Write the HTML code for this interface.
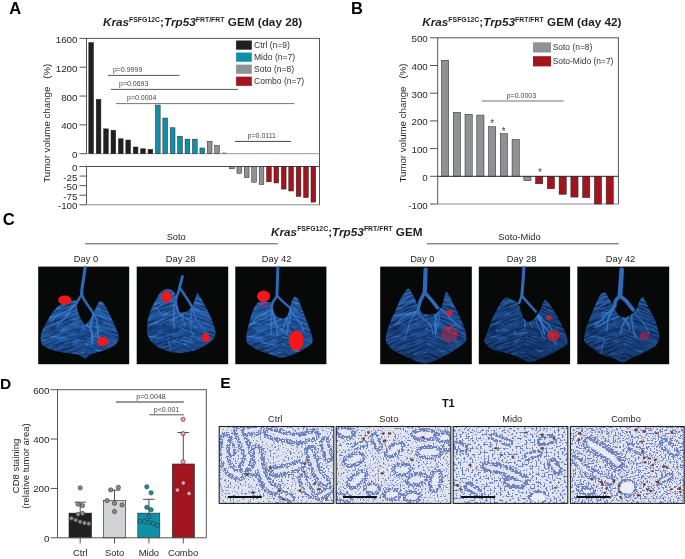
<!DOCTYPE html>
<html><head><meta charset="utf-8"><style>
html,body{margin:0;padding:0;background:#fff;}
svg{display:block;will-change:transform;font-family:"Liberation Sans", sans-serif;}
</style></head><body>
<svg width="685" height="559" viewBox="0 0 685 559">
<rect width="685" height="559" fill="#fff"/>
<text x="9.30" y="13.90" font-size="16.5" font-weight="bold" fill="#000">A</text>
<text x="350.90" y="13.90" font-size="16.5" font-weight="bold" fill="#000">B</text>
<text x="2.80" y="224.90" font-size="16.5" font-weight="bold" fill="#000">C</text>
<text x="0.10" y="388.70" font-size="15.5" font-weight="bold" fill="#000">D</text>
<text x="220.30" y="387.60" font-size="15.5" font-weight="bold" fill="#000">E</text>
<text x="102.9" y="26" font-size="11.75" font-weight="bold" fill="#231f20"><tspan font-style="italic">Kras</tspan><tspan font-size="6.9" dy="-4.2">FSFG12C</tspan><tspan dy="4.2">;</tspan><tspan font-style="italic">Trp53</tspan><tspan font-size="6.9" dy="-4.2">FRT/FRT</tspan><tspan dy="4.2"> GEM (day 28)</tspan></text>
<line x1="86.50" y1="38.40" x2="319.50" y2="38.40" stroke="#555555" stroke-width="1"/>
<line x1="86.50" y1="37.90" x2="86.50" y2="153.70" stroke="#555555" stroke-width="1"/>
<line x1="319.50" y1="37.90" x2="319.50" y2="205.30" stroke="#555555" stroke-width="1"/>
<line x1="86.50" y1="166.50" x2="319.50" y2="166.50" stroke="#4a4a4a" stroke-width="1"/>
<line x1="86.50" y1="166.50" x2="86.50" y2="204.80" stroke="#555555" stroke-width="1"/>
<line x1="86.50" y1="204.80" x2="319.50" y2="204.80" stroke="#8a8a8a" stroke-width="1"/>
<line x1="86.50" y1="153.70" x2="319.50" y2="153.70" stroke="#9a9a9a" stroke-width="1"/>
<line x1="79.50" y1="153.70" x2="86.50" y2="153.70" stroke="#555555" stroke-width="1"/>
<text x="77.50" y="158.20" font-size="9.8" text-anchor="end" fill="#231f20">0</text>
<line x1="79.50" y1="124.88" x2="86.50" y2="124.88" stroke="#555555" stroke-width="1"/>
<text x="77.50" y="129.38" font-size="9.8" text-anchor="end" fill="#231f20">400</text>
<line x1="79.50" y1="96.05" x2="86.50" y2="96.05" stroke="#555555" stroke-width="1"/>
<text x="77.50" y="100.55" font-size="9.8" text-anchor="end" fill="#231f20">800</text>
<line x1="79.50" y1="67.23" x2="86.50" y2="67.23" stroke="#555555" stroke-width="1"/>
<text x="77.50" y="71.73" font-size="9.8" text-anchor="end" fill="#231f20">1200</text>
<line x1="79.50" y1="38.40" x2="86.50" y2="38.40" stroke="#555555" stroke-width="1"/>
<text x="77.50" y="42.90" font-size="9.8" text-anchor="end" fill="#231f20">1600</text>
<line x1="79.50" y1="166.50" x2="86.50" y2="166.50" stroke="#555555" stroke-width="1"/>
<text x="77.50" y="171.00" font-size="9.8" text-anchor="end" fill="#231f20">0</text>
<line x1="79.50" y1="176.07" x2="86.50" y2="176.07" stroke="#555555" stroke-width="1"/>
<text x="77.50" y="180.57" font-size="9.8" text-anchor="end" fill="#231f20">-25</text>
<line x1="79.50" y1="185.65" x2="86.50" y2="185.65" stroke="#555555" stroke-width="1"/>
<text x="77.50" y="190.15" font-size="9.8" text-anchor="end" fill="#231f20">-50</text>
<line x1="79.50" y1="195.23" x2="86.50" y2="195.23" stroke="#555555" stroke-width="1"/>
<text x="77.50" y="199.73" font-size="9.8" text-anchor="end" fill="#231f20">-75</text>
<line x1="79.50" y1="204.80" x2="86.50" y2="204.80" stroke="#555555" stroke-width="1"/>
<text x="77.50" y="209.30" font-size="9.8" text-anchor="end" fill="#231f20">-100</text>
<text transform="translate(50.4,123.2) rotate(-90)" font-size="9.7" text-anchor="middle" fill="#231f20">Tumor volume change<tspan dx="8">(%)</tspan></text>
<rect x="88.80" y="42.58" width="4.70" height="111.12" fill="#231f20" stroke="#222" stroke-width="0.5"/>
<rect x="96.21" y="99.36" width="4.70" height="54.34" fill="#231f20" stroke="#222" stroke-width="0.5"/>
<rect x="103.61" y="128.84" width="4.70" height="24.86" fill="#231f20" stroke="#222" stroke-width="0.5"/>
<rect x="111.02" y="130.21" width="4.70" height="23.49" fill="#231f20" stroke="#222" stroke-width="0.5"/>
<rect x="118.43" y="138.78" width="4.70" height="14.92" fill="#231f20" stroke="#222" stroke-width="0.5"/>
<rect x="125.83" y="140.01" width="4.70" height="13.69" fill="#231f20" stroke="#222" stroke-width="0.5"/>
<rect x="133.24" y="147.00" width="4.70" height="6.70" fill="#231f20" stroke="#222" stroke-width="0.5"/>
<rect x="140.65" y="148.80" width="4.70" height="4.90" fill="#231f20" stroke="#222" stroke-width="0.5"/>
<rect x="148.06" y="149.30" width="4.70" height="4.40" fill="#231f20" stroke="#222" stroke-width="0.5"/>
<rect x="155.46" y="105.06" width="4.70" height="48.64" fill="#118fa9" stroke="#222" stroke-width="0.5"/>
<rect x="162.87" y="118.03" width="4.70" height="35.67" fill="#118fa9" stroke="#222" stroke-width="0.5"/>
<rect x="170.28" y="127.76" width="4.70" height="25.94" fill="#118fa9" stroke="#222" stroke-width="0.5"/>
<rect x="177.68" y="136.33" width="4.70" height="17.37" fill="#118fa9" stroke="#222" stroke-width="0.5"/>
<rect x="185.09" y="139.14" width="4.70" height="14.56" fill="#118fa9" stroke="#222" stroke-width="0.5"/>
<rect x="192.50" y="139.14" width="4.70" height="14.56" fill="#118fa9" stroke="#222" stroke-width="0.5"/>
<rect x="199.91" y="148.01" width="4.70" height="5.69" fill="#118fa9" stroke="#222" stroke-width="0.5"/>
<rect x="207.31" y="141.31" width="4.70" height="12.39" fill="#8f9294" stroke="#222" stroke-width="0.5"/>
<rect x="214.72" y="145.48" width="4.70" height="8.22" fill="#8f9294" stroke="#222" stroke-width="0.5"/>
<rect x="222.13" y="152.90" width="4.70" height="0.80" fill="#8f9294" stroke="#555" stroke-width="0.3"/>
<rect x="229.53" y="166.50" width="4.70" height="2.30" fill="#8f9294" stroke="#222" stroke-width="0.5"/>
<rect x="236.94" y="166.50" width="4.70" height="6.89" fill="#8f9294" stroke="#222" stroke-width="0.5"/>
<rect x="244.35" y="166.50" width="4.70" height="11.11" fill="#8f9294" stroke="#222" stroke-width="0.5"/>
<rect x="251.75" y="166.50" width="4.70" height="15.70" fill="#8f9294" stroke="#222" stroke-width="0.5"/>
<rect x="259.16" y="166.50" width="4.70" height="18.00" fill="#8f9294" stroke="#222" stroke-width="0.5"/>
<rect x="266.57" y="166.50" width="4.70" height="15.32" fill="#a3151e" stroke="#222" stroke-width="0.5"/>
<rect x="273.98" y="166.50" width="4.70" height="16.47" fill="#a3151e" stroke="#222" stroke-width="0.5"/>
<rect x="281.38" y="166.50" width="4.70" height="22.60" fill="#a3151e" stroke="#222" stroke-width="0.5"/>
<rect x="288.79" y="166.50" width="4.70" height="24.51" fill="#a3151e" stroke="#222" stroke-width="0.5"/>
<rect x="296.20" y="166.50" width="4.70" height="29.87" fill="#a3151e" stroke="#222" stroke-width="0.5"/>
<rect x="303.60" y="166.50" width="4.70" height="31.02" fill="#a3151e" stroke="#222" stroke-width="0.5"/>
<rect x="311.01" y="166.50" width="4.70" height="35.62" fill="#a3151e" stroke="#222" stroke-width="0.5"/>
<rect x="236.10" y="40.50" width="15.70" height="9.20" fill="#231f20"/>
<text x="254.00" y="48.10" font-size="8.55" fill="#333">Ctrl (n=9)</text>
<rect x="236.10" y="52.55" width="15.70" height="9.20" fill="#118fa9"/>
<text x="254.00" y="60.15" font-size="8.55" fill="#333">Mido (n=7)</text>
<rect x="236.10" y="64.60" width="15.70" height="9.20" fill="#8f9294"/>
<text x="254.00" y="72.20" font-size="8.55" fill="#333">Soto (n=8)</text>
<rect x="236.10" y="76.65" width="15.70" height="9.20" fill="#a3151e"/>
<text x="254.00" y="84.25" font-size="8.55" fill="#333">Combo (n=7)</text>
<line x1="108.00" y1="75.40" x2="179.40" y2="75.40" stroke="#555" stroke-width="1"/>
<text x="112.90" y="71.80" font-size="7" fill="#444">p=0.9999</text>
<line x1="110.80" y1="89.40" x2="237.80" y2="89.40" stroke="#555" stroke-width="1"/>
<text x="119.00" y="85.80" font-size="7" fill="#444">p=0.0693</text>
<line x1="115.90" y1="103.60" x2="294.50" y2="103.60" stroke="#777" stroke-width="1"/>
<text x="127.00" y="100.00" font-size="7" fill="#444">p=0.0004</text>
<line x1="235.00" y1="141.40" x2="291.00" y2="141.40" stroke="#444" stroke-width="1"/>
<text x="247.60" y="137.80" font-size="7" fill="#444">p=0.0111</text>
<text x="422.2" y="26" font-size="11.75" font-weight="bold" fill="#231f20"><tspan font-style="italic">Kras</tspan><tspan font-size="6.9" dy="-4.2">FSFG12C</tspan><tspan dy="4.2">;</tspan><tspan font-style="italic">Trp53</tspan><tspan font-size="6.9" dy="-4.2">FRT/FRT</tspan><tspan dy="4.2"> GEM (day 42)</tspan></text>
<line x1="437.70" y1="37.80" x2="618.40" y2="37.80" stroke="#555555" stroke-width="1"/>
<line x1="437.70" y1="37.30" x2="437.70" y2="204.00" stroke="#555555" stroke-width="1"/>
<line x1="618.40" y1="37.30" x2="618.40" y2="204.00" stroke="#555555" stroke-width="1"/>
<line x1="437.70" y1="204.00" x2="618.40" y2="204.00" stroke="#8a8a8a" stroke-width="1"/>
<line x1="430.00" y1="37.80" x2="437.70" y2="37.80" stroke="#555555" stroke-width="1"/>
<text x="427.80" y="42.30" font-size="9.8" text-anchor="end" fill="#231f20">500</text>
<line x1="430.00" y1="65.50" x2="437.70" y2="65.50" stroke="#555555" stroke-width="1"/>
<text x="427.80" y="70.00" font-size="9.8" text-anchor="end" fill="#231f20">400</text>
<line x1="430.00" y1="93.20" x2="437.70" y2="93.20" stroke="#555555" stroke-width="1"/>
<text x="427.80" y="97.70" font-size="9.8" text-anchor="end" fill="#231f20">300</text>
<line x1="430.00" y1="120.90" x2="437.70" y2="120.90" stroke="#555555" stroke-width="1"/>
<text x="427.80" y="125.40" font-size="9.8" text-anchor="end" fill="#231f20">200</text>
<line x1="430.00" y1="148.60" x2="437.70" y2="148.60" stroke="#555555" stroke-width="1"/>
<text x="427.80" y="153.10" font-size="9.8" text-anchor="end" fill="#231f20">100</text>
<line x1="430.00" y1="176.30" x2="437.70" y2="176.30" stroke="#555555" stroke-width="1"/>
<text x="427.80" y="180.80" font-size="9.8" text-anchor="end" fill="#231f20">0</text>
<line x1="430.00" y1="204.00" x2="437.70" y2="204.00" stroke="#555555" stroke-width="1"/>
<text x="427.80" y="208.50" font-size="9.8" text-anchor="end" fill="#231f20">-100</text>
<text transform="translate(405.5,123.0) rotate(-90)" font-size="9.7" text-anchor="middle" fill="#231f20">Tumor volume change<tspan dx="8">(%)</tspan></text>
<rect x="441.50" y="60.24" width="7.20" height="116.06" fill="#8f9294" stroke="#222" stroke-width="0.5"/>
<rect x="453.26" y="112.31" width="7.20" height="63.99" fill="#8f9294" stroke="#222" stroke-width="0.5"/>
<rect x="465.02" y="114.25" width="7.20" height="62.05" fill="#8f9294" stroke="#222" stroke-width="0.5"/>
<rect x="476.78" y="115.08" width="7.20" height="61.22" fill="#8f9294" stroke="#222" stroke-width="0.5"/>
<rect x="488.54" y="126.72" width="7.20" height="49.58" fill="#8f9294" stroke="#222" stroke-width="0.5"/>
<rect x="500.30" y="133.64" width="7.20" height="42.66" fill="#8f9294" stroke="#222" stroke-width="0.5"/>
<rect x="512.06" y="139.46" width="7.20" height="36.84" fill="#8f9294" stroke="#222" stroke-width="0.5"/>
<rect x="523.82" y="176.30" width="7.20" height="4.43" fill="#8f9294" stroke="#222" stroke-width="0.5"/>
<rect x="535.58" y="176.30" width="7.20" height="7.48" fill="#a3151e" stroke="#222" stroke-width="0.5"/>
<rect x="547.34" y="176.30" width="7.20" height="12.47" fill="#a3151e" stroke="#222" stroke-width="0.5"/>
<rect x="559.10" y="176.30" width="7.20" height="18.01" fill="#a3151e" stroke="#222" stroke-width="0.5"/>
<rect x="570.86" y="176.30" width="7.20" height="20.78" fill="#a3151e" stroke="#222" stroke-width="0.5"/>
<rect x="582.62" y="176.30" width="7.20" height="21.33" fill="#a3151e" stroke="#222" stroke-width="0.5"/>
<rect x="594.38" y="176.30" width="7.20" height="27.70" fill="#a3151e" stroke="#222" stroke-width="0.5"/>
<rect x="606.14" y="176.30" width="7.20" height="27.70" fill="#a3151e" stroke="#222" stroke-width="0.5"/>
<line x1="437.70" y1="176.30" x2="618.40" y2="176.30" stroke="#2a2a2a" stroke-width="1"/>
<rect x="533.00" y="42.30" width="18.00" height="10.20" fill="#8f9294"/>
<text x="552.70" y="50.10" font-size="8.45" fill="#333">Soto (n=8)</text>
<rect x="533.00" y="56.20" width="18.00" height="10.20" fill="#a3151e"/>
<text x="552.70" y="64.00" font-size="8.45" fill="#333">Soto-Mido (n=7)</text>
<line x1="481.60" y1="101.00" x2="563.70" y2="101.00" stroke="#777" stroke-width="1"/>
<text x="521.40" y="98.20" font-size="7" text-anchor="middle" fill="#444">p=0.0003</text>
<text x="492.30" y="126.80" font-size="10" text-anchor="middle" fill="#444">*</text>
<text x="503.80" y="134.80" font-size="10" text-anchor="middle" fill="#444">*</text>
<text x="540.00" y="176.30" font-size="10" text-anchor="middle" fill="#444">*</text>
<text x="271" y="235.5" font-size="11.75" font-weight="bold" fill="#231f20"><tspan font-style="italic">Kras</tspan><tspan font-size="6.9" dy="-4.2">FSFG12C</tspan><tspan dy="4.2">;</tspan><tspan font-style="italic">Trp53</tspan><tspan font-size="6.9" dy="-4.2">FRT/FRT</tspan><tspan dy="4.2"> GEM</tspan></text>
<line x1="85.20" y1="243.80" x2="277.80" y2="243.80" stroke="#555" stroke-width="1"/>
<line x1="426.80" y1="243.80" x2="618.80" y2="243.80" stroke="#555" stroke-width="1"/>
<text x="176.20" y="240.20" font-size="9.3" text-anchor="middle" fill="#231f20">Soto</text>
<text x="519.50" y="240.20" font-size="9.3" text-anchor="middle" fill="#231f20">Soto-Mido</text>
<text x="86.00" y="261.60" font-size="9.3" text-anchor="middle" fill="#231f20">Day 0</text>
<text x="180.60" y="261.60" font-size="9.3" text-anchor="middle" fill="#231f20">Day 28</text>
<text x="276.60" y="261.60" font-size="9.3" text-anchor="middle" fill="#231f20">Day 42</text>
<text x="422.30" y="261.60" font-size="9.3" text-anchor="middle" fill="#231f20">Day 0</text>
<text x="521.60" y="261.60" font-size="9.3" text-anchor="middle" fill="#231f20">Day 28</text>
<text x="620.50" y="261.60" font-size="9.3" text-anchor="middle" fill="#231f20">Day 42</text>
<defs><filter id="bl" x="-5%" y="-5%" width="110%" height="110%"><feGaussianBlur stdDeviation="0.5"/></filter><filter id="bl2" x="-20%" y="-20%" width="140%" height="140%"><feGaussianBlur stdDeviation="0.55"/></filter><linearGradient id="lgd" x1="0" y1="0" x2="0" y2="1"><stop offset="0" stop-color="#4a90e0" stop-opacity="0.35"/><stop offset="0.45" stop-color="#4a90e0" stop-opacity="0"/><stop offset="0.7" stop-color="#081a3a" stop-opacity="0"/><stop offset="1" stop-color="#081a3a" stop-opacity="0.45"/></linearGradient><filter id="blu" filterUnits="userSpaceOnUse" x="-1000" y="-1000" width="3000" height="3000"><feGaussianBlur stdDeviation="0.6"/></filter><filter id="ltx" x="0" y="0" width="1" height="1" color-interpolation-filters="sRGB"><feTurbulence type="fractalNoise" baseFrequency="0.05 0.6" numOctaves="2" seed="5"/><feColorMatrix type="matrix" values="0 0 0 0 0.02  0 0 0 0 0.06  0 0 0 0 0.16  -3.2 0 0 0 1.75"/></filter><filter id="ltl" x="0" y="0" width="1" height="1" color-interpolation-filters="sRGB"><feTurbulence type="fractalNoise" baseFrequency="0.12 0.3" numOctaves="2" seed="11"/><feColorMatrix type="matrix" values="0 0 0 0 0.25  0 0 0 0 0.52  0 0 0 0 0.85  3.5 0 0 0 -1.85"/></filter></defs>
<rect x="38.20" y="266.60" width="91.00" height="97.60" fill="#060908"/>
<clipPath id="lc0"><rect x="38.2" y="266.6" width="91.0" height="97.6"/></clipPath>
<g clip-path="url(#lc0)"><g transform="translate(38,266)" filter="url(#bl)">
<path d="M37.7,34.2 C37.0,33.8 33.2,35.4 31.5,35.9 C29.8,36.4 22.8,38.3 21.0,39.4 C19.2,40.5 15.3,45.5 14.0,47.3 C12.7,49.1 9.0,55.9 7.9,57.8 C6.9,59.7 4.0,65.0 3.5,66.6 C3.0,68.2 2.5,72.4 2.6,73.6 C2.7,74.8 3.3,77.9 4.4,78.9 C5.5,80.0 11.8,83.3 14.0,84.1 C16.2,84.9 23.7,86.3 26.3,86.7 C28.9,87.1 38.2,87.9 40.3,88.5 C42.4,89.1 46.1,92.9 47.3,92.9 C48.5,92.9 50.7,89.4 52.6,88.5 C54.5,87.6 64.1,85.1 66.6,84.1 C69.0,83.1 75.7,80.0 77.1,78.9 C78.5,77.9 80.3,74.8 80.6,73.6 C80.9,72.4 80.4,68.7 79.7,66.6 C79.0,64.5 74.8,55.2 73.6,52.6 C72.4,50.0 68.5,42.1 67.5,40.3 C66.5,38.5 63.8,35.4 63.1,35.0 C62.4,34.6 61.2,35.7 60.5,36.8 C59.8,37.9 56.9,44.0 56.1,45.6 C55.3,47.2 53.5,51.3 52.6,52.6 C51.7,53.9 48.2,58.5 47.3,58.7 C46.4,58.9 44.5,55.4 43.8,54.3 C43.1,53.2 40.8,48.7 40.3,47.3 C39.8,45.9 38.8,41.6 38.5,40.3 C38.2,39.0 38.4,34.6 37.7,34.2Z" fill="#2459a2"/>
<clipPath id="lb0"><path d="M37.7,34.2 C37.0,33.8 33.2,35.4 31.5,35.9 C29.8,36.4 22.8,38.3 21.0,39.4 C19.2,40.5 15.3,45.5 14.0,47.3 C12.7,49.1 9.0,55.9 7.9,57.8 C6.9,59.7 4.0,65.0 3.5,66.6 C3.0,68.2 2.5,72.4 2.6,73.6 C2.7,74.8 3.3,77.9 4.4,78.9 C5.5,80.0 11.8,83.3 14.0,84.1 C16.2,84.9 23.7,86.3 26.3,86.7 C28.9,87.1 38.2,87.9 40.3,88.5 C42.4,89.1 46.1,92.9 47.3,92.9 C48.5,92.9 50.7,89.4 52.6,88.5 C54.5,87.6 64.1,85.1 66.6,84.1 C69.0,83.1 75.7,80.0 77.1,78.9 C78.5,77.9 80.3,74.8 80.6,73.6 C80.9,72.4 80.4,68.7 79.7,66.6 C79.0,64.5 74.8,55.2 73.6,52.6 C72.4,50.0 68.5,42.1 67.5,40.3 C66.5,38.5 63.8,35.4 63.1,35.0 C62.4,34.6 61.2,35.7 60.5,36.8 C59.8,37.9 56.9,44.0 56.1,45.6 C55.3,47.2 53.5,51.3 52.6,52.6 C51.7,53.9 48.2,58.5 47.3,58.7 C46.4,58.9 44.5,55.4 43.8,54.3 C43.1,53.2 40.8,48.7 40.3,47.3 C39.8,45.9 38.8,41.6 38.5,40.3 C38.2,39.0 38.4,34.6 37.7,34.2Z"/></clipPath><g clip-path="url(#lb0)">
<rect x="0" y="22" width="92" height="76" fill="url(#lgd)"/>
<rect x="0" y="0" width="92" height="100" filter="url(#ltl)" opacity="0.8"/>
<clipPath id="lh0"><rect x="-20" y="-20" width="68" height="140"/></clipPath><clipPath id="rh0"><rect x="48" y="-20" width="70" height="140"/></clipPath>
<g clip-path="url(#lh0)"><rect x="-30" y="-10" width="150" height="130" filter="url(#ltx)" opacity="0.65" transform="rotate(-22 47 93)"/></g>
<g clip-path="url(#rh0)"><rect x="-30" y="-10" width="150" height="130" filter="url(#ltx)" opacity="0.65" transform="rotate(20 47 93)"/></g>
<ellipse cx="26.7" cy="80.4" rx="8.8" ry="3.8" fill="#0d2450" opacity="0.22"/>
<ellipse cx="44.8" cy="68.5" rx="8.3" ry="5.4" fill="#0d2450" opacity="0.22"/>
<ellipse cx="24.7" cy="55.9" rx="9.2" ry="4.3" fill="#0d2450" opacity="0.22"/>
<ellipse cx="58.1" cy="55.1" rx="7.2" ry="5.2" fill="#0d2450" opacity="0.22"/>
<path d="M38.2,37.7 C38.5,39.1 39.4,44.0 40.2,46.1 C41.1,48.1 41.9,48.3 43.2,50.2 C44.5,52.1 46.6,55.6 48.0,57.5 C49.4,59.5 51.1,61.3 51.7,62.1" stroke="#3a7fd0" stroke-width="1.4" fill="none" opacity="0.7" stroke-linecap="round"/>
<path d="M38.2,37.7 C39.3,38.0 42.6,39.1 44.6,39.8 C46.6,40.4 48.4,41.2 50.3,41.6 C52.2,42.0 54.1,42.0 56.1,42.1 C58.1,42.3 61.3,42.4 62.3,42.5" stroke="#3a7fd0" stroke-width="1.0" fill="none" opacity="0.7" stroke-linecap="round"/>
<path d="M38.2,37.7 C37.3,38.6 34.5,40.9 32.8,43.0 C31.2,45.2 29.7,48.8 28.2,50.7 C26.8,52.7 25.7,52.8 24.2,54.5 C22.7,56.1 20.0,59.5 19.2,60.6" stroke="#3a7fd0" stroke-width="1.7" fill="none" opacity="0.7" stroke-linecap="round"/>
<path d="M38.2,37.7 C37.1,38.6 33.7,41.5 31.7,42.9 C29.7,44.3 28.5,44.9 26.4,46.1 C24.2,47.2 21.2,49.0 18.7,49.9 C16.3,50.8 13.0,51.0 11.8,51.2" stroke="#3a7fd0" stroke-width="1.6" fill="none" opacity="0.7" stroke-linecap="round"/>
<path d="M55.2,47.3 C56.5,47.8 60.7,49.3 62.9,50.0 C65.1,50.8 66.2,50.9 68.4,51.6 C70.6,52.2 73.6,53.1 75.8,54.0 C78.1,54.8 80.7,56.3 81.7,56.8" stroke="#3a7fd0" stroke-width="1.4" fill="none" opacity="0.7" stroke-linecap="round"/>
<path d="M55.2,47.3 C54.9,48.4 54.0,51.9 53.5,54.2 C53.0,56.5 52.4,59.1 52.4,61.1 C52.4,63.0 53.3,63.8 53.6,66.1 C53.8,68.4 54.0,73.5 54.1,75.0" stroke="#3a7fd0" stroke-width="1.6" fill="none" opacity="0.7" stroke-linecap="round"/>
<path d="M55.2,47.3 C55.8,48.3 57.8,51.1 58.5,53.5 C59.3,55.8 59.2,58.7 59.5,61.5 C59.7,64.2 59.7,67.4 60.1,69.9 C60.6,72.4 61.8,75.5 62.2,76.7" stroke="#3a7fd0" stroke-width="2.0" fill="none" opacity="0.7" stroke-linecap="round"/>
<path d="M55.2,47.3 C55.1,48.3 54.8,50.9 54.4,53.3 C54.0,55.8 52.8,59.2 52.8,62.0 C52.8,64.8 54.3,67.2 54.6,70.0 C54.8,72.7 54.3,77.1 54.2,78.5" stroke="#3a7fd0" stroke-width="1.7" fill="none" opacity="0.7" stroke-linecap="round"/>
<path d="M63.5,63.2 q1.0,-0.9 -10.7,9.1" stroke="#3a7fd0" stroke-width="1.3" fill="none" opacity="0.6" stroke-linecap="round"/>
<path d="M27.0,62.7 q-0.2,-1.7 -3.7,1.8" stroke="#3a7fd0" stroke-width="1.3" fill="none" opacity="0.6" stroke-linecap="round"/>
<path d="M51.7,61.0 q-7.6,-3.2 -7.7,2.9" stroke="#3a7fd0" stroke-width="1.5" fill="none" opacity="0.6" stroke-linecap="round"/>
<path d="M62.9,72.9 q5.1,-2.9 8.2,4.8" stroke="#3a7fd0" stroke-width="0.9" fill="none" opacity="0.6" stroke-linecap="round"/>
<path d="M16.0,45.5 q4.1,-3.0 -9.4,3.7" stroke="#3a7fd0" stroke-width="1.1" fill="none" opacity="0.6" stroke-linecap="round"/>
<path d="M19.2,50.6 q0.4,-4.0 -5.5,5.7" stroke="#3a7fd0" stroke-width="1.2" fill="none" opacity="0.6" stroke-linecap="round"/>
</g>
<path d="M47.3,0.0 C47.1,1.8 46.5,6.4 45.9,10.5 C45.3,14.6 44.1,21.4 43.8,24.5 C43.4,27.6 43.8,28.2 43.8,28.9" stroke="#2f6ab8" stroke-width="3.1" stroke-linecap="round" fill="none"/>
<path d="M43.8,28.9 C43.4,29.5 42.1,30.9 41.2,32.4 C40.3,33.9 38.7,36.8 38.2,37.7" stroke="#2f6ab8" stroke-width="2.5" stroke-linecap="round" fill="none"/>
<path d="M43.8,28.9 C44.2,29.8 45.1,32.0 46.4,34.2 C47.7,36.4 50.2,39.8 51.7,42.0 C53.2,44.2 54.6,46.4 55.2,47.3" stroke="#2f6ab8" stroke-width="2.5" stroke-linecap="round" fill="none"/>
</g>
<g transform="translate(38,266)" filter="url(#bl2)">
<ellipse cx="26.7" cy="34" rx="6.6" ry="4.6" fill="#f5161e" opacity="1"/>
<ellipse cx="64.8" cy="75.3" rx="5.6" ry="4.4" fill="#f5161e" opacity="1"/>
</g></g>
<rect x="136.70" y="266.60" width="91.50" height="97.60" fill="#060908"/>
<clipPath id="lc1"><rect x="136.7" y="266.6" width="91.5" height="97.6"/></clipPath>
<g clip-path="url(#lc1)"><g transform="translate(136,266)" filter="url(#bl)">
<path d="M37.7,25.4 C36.8,24.5 32.8,22.7 31.5,22.8 C30.2,22.9 25.7,25.1 24.5,26.3 C23.3,27.5 20.3,33.2 19.3,35.0 C18.3,36.8 15.7,41.7 14.9,43.8 C14.1,45.9 11.8,53.6 11.4,56.1 C11.1,58.6 11.1,66.4 11.4,68.3 C11.8,70.2 13.8,74.0 14.9,75.3 C16.0,76.6 20.8,80.4 22.8,81.5 C24.8,82.6 32.5,85.4 35.0,85.9 C37.5,86.4 44.8,86.9 47.3,86.7 C49.8,86.5 57.3,84.9 59.6,84.1 C61.9,83.3 68.3,80.0 70.1,78.9 C71.8,77.9 76.1,74.8 77.1,73.6 C78.1,72.4 79.9,68.7 79.7,66.6 C79.5,64.5 76.6,55.8 75.3,52.6 C74.0,49.4 68.0,37.5 66.6,35.0 C65.2,32.5 62.0,27.6 61.3,27.2 C60.6,26.8 60.1,30.2 59.6,31.5 C59.1,32.8 57.0,38.9 56.1,40.3 C55.2,41.7 52.0,45.0 50.8,45.6 C49.6,46.2 44.7,46.9 43.8,46.4 C42.9,45.9 42.4,41.8 42.0,40.3 C41.6,38.8 40.7,33.0 40.3,31.5 C39.9,30.0 38.6,26.3 37.7,25.4Z" fill="#22549c"/>
<clipPath id="lb1"><path d="M37.7,25.4 C36.8,24.5 32.8,22.7 31.5,22.8 C30.2,22.9 25.7,25.1 24.5,26.3 C23.3,27.5 20.3,33.2 19.3,35.0 C18.3,36.8 15.7,41.7 14.9,43.8 C14.1,45.9 11.8,53.6 11.4,56.1 C11.1,58.6 11.1,66.4 11.4,68.3 C11.8,70.2 13.8,74.0 14.9,75.3 C16.0,76.6 20.8,80.4 22.8,81.5 C24.8,82.6 32.5,85.4 35.0,85.9 C37.5,86.4 44.8,86.9 47.3,86.7 C49.8,86.5 57.3,84.9 59.6,84.1 C61.9,83.3 68.3,80.0 70.1,78.9 C71.8,77.9 76.1,74.8 77.1,73.6 C78.1,72.4 79.9,68.7 79.7,66.6 C79.5,64.5 76.6,55.8 75.3,52.6 C74.0,49.4 68.0,37.5 66.6,35.0 C65.2,32.5 62.0,27.6 61.3,27.2 C60.6,26.8 60.1,30.2 59.6,31.5 C59.1,32.8 57.0,38.9 56.1,40.3 C55.2,41.7 52.0,45.0 50.8,45.6 C49.6,46.2 44.7,46.9 43.8,46.4 C42.9,45.9 42.4,41.8 42.0,40.3 C41.6,38.8 40.7,33.0 40.3,31.5 C39.9,30.0 38.6,26.3 37.7,25.4Z"/></clipPath><g clip-path="url(#lb1)">
<rect x="0" y="22" width="92" height="76" fill="url(#lgd)"/>
<rect x="0" y="0" width="92" height="100" filter="url(#ltl)" opacity="0.8"/>
<clipPath id="lh1"><rect x="-20" y="-20" width="68" height="140"/></clipPath><clipPath id="rh1"><rect x="48" y="-20" width="70" height="140"/></clipPath>
<g clip-path="url(#lh1)"><rect x="-30" y="-10" width="150" height="130" filter="url(#ltx)" opacity="0.65" transform="rotate(-22 47 93)"/></g>
<g clip-path="url(#rh1)"><rect x="-30" y="-10" width="150" height="130" filter="url(#ltx)" opacity="0.65" transform="rotate(20 47 93)"/></g>
<ellipse cx="25.3" cy="76.1" rx="8.3" ry="5.8" fill="#0d2450" opacity="0.22"/>
<ellipse cx="33.6" cy="62.7" rx="8.7" ry="5.0" fill="#0d2450" opacity="0.22"/>
<ellipse cx="35.1" cy="75.5" rx="7.0" ry="5.3" fill="#0d2450" opacity="0.22"/>
<ellipse cx="25.9" cy="61.7" rx="9.5" ry="4.1" fill="#0d2450" opacity="0.22"/>
<path d="M39.4,36.8 C39.8,38.0 40.5,41.8 41.5,44.0 C42.5,46.2 44.3,48.2 45.4,50.1 C46.4,52.0 47.1,53.5 47.7,55.3 C48.4,57.0 49.1,59.6 49.4,60.5" stroke="#3a7fd0" stroke-width="1.3" fill="none" opacity="0.7" stroke-linecap="round"/>
<path d="M39.4,36.8 C40.8,37.4 44.8,39.3 47.5,40.4 C50.3,41.5 53.4,42.5 56.0,43.4 C58.6,44.3 60.9,44.5 63.1,45.5 C65.4,46.6 68.5,49.1 69.6,49.8" stroke="#3a7fd0" stroke-width="1.1" fill="none" opacity="0.7" stroke-linecap="round"/>
<path d="M39.4,36.8 C39.1,37.7 37.9,39.9 37.7,42.3 C37.4,44.6 37.8,48.4 37.9,50.8 C37.9,53.1 37.9,54.6 37.9,56.5 C38.0,58.5 38.2,61.4 38.2,62.4" stroke="#3a7fd0" stroke-width="1.8" fill="none" opacity="0.7" stroke-linecap="round"/>
<path d="M39.4,36.8 C39.8,38.1 40.9,42.5 42.0,44.7 C43.0,46.8 43.9,48.0 45.7,49.6 C47.4,51.1 50.2,52.7 52.5,53.7 C54.7,54.7 58.2,55.1 59.4,55.4" stroke="#3a7fd0" stroke-width="1.1" fill="none" opacity="0.7" stroke-linecap="round"/>
<path d="M56.1,41.2 C56.0,42.4 55.6,46.0 55.3,48.3 C55.1,50.6 55.0,52.8 54.9,55.2 C54.8,57.6 54.4,60.3 54.7,62.6 C55.1,64.9 56.5,68.1 56.8,69.2" stroke="#3a7fd0" stroke-width="1.2" fill="none" opacity="0.7" stroke-linecap="round"/>
<path d="M56.1,41.2 C55.3,41.6 53.1,42.1 51.3,43.3 C49.5,44.5 47.0,47.0 45.3,48.4 C43.6,49.7 43.2,50.2 41.3,51.4 C39.3,52.6 34.8,54.8 33.5,55.5" stroke="#3a7fd0" stroke-width="1.4" fill="none" opacity="0.7" stroke-linecap="round"/>
<path d="M56.1,41.2 C56.5,42.6 57.6,47.3 58.5,49.6 C59.4,51.9 60.0,53.3 61.3,55.2 C62.6,57.0 64.8,59.1 66.3,60.8 C67.8,62.5 69.7,64.5 70.3,65.2" stroke="#3a7fd0" stroke-width="1.4" fill="none" opacity="0.7" stroke-linecap="round"/>
<path d="M56.1,41.2 C57.5,41.8 62.1,43.6 64.3,44.7 C66.6,45.7 68.2,46.2 69.8,47.4 C71.5,48.7 72.8,50.8 74.2,52.1 C75.7,53.4 77.7,54.6 78.4,55.1" stroke="#3a7fd0" stroke-width="1.1" fill="none" opacity="0.7" stroke-linecap="round"/>
<path d="M26.9,53.1 q6.0,-2.8 -6.0,3.3" stroke="#3a7fd0" stroke-width="1.5" fill="none" opacity="0.6" stroke-linecap="round"/>
<path d="M32.5,71.7 q-2.1,0.7 2.3,10.7" stroke="#3a7fd0" stroke-width="1.4" fill="none" opacity="0.6" stroke-linecap="round"/>
<path d="M45.5,74.4 q-2.1,-1.4 11.0,2.0" stroke="#3a7fd0" stroke-width="1.4" fill="none" opacity="0.6" stroke-linecap="round"/>
<path d="M33.9,77.0 q1.8,-3.0 10.4,0.3" stroke="#3a7fd0" stroke-width="1.1" fill="none" opacity="0.6" stroke-linecap="round"/>
<path d="M30.8,48.6 q-4.8,2.3 -8.6,-4.3" stroke="#3a7fd0" stroke-width="1.2" fill="none" opacity="0.6" stroke-linecap="round"/>
<path d="M47.7,58.3 q4.6,-2.9 -3.2,-0.6" stroke="#3a7fd0" stroke-width="0.9" fill="none" opacity="0.6" stroke-linecap="round"/>
</g>
<path d="M46.4,10.5 C46.1,11.8 45.1,15.7 44.5,18.0 C43.9,20.3 43.2,23.4 42.9,24.5" stroke="#2f6ab8" stroke-width="2.9" stroke-linecap="round" fill="none"/>
<path d="M42.9,24.5 C42.6,25.4 41.6,27.9 41.0,30.0 C40.4,32.0 39.7,35.7 39.4,36.8" stroke="#2f6ab8" stroke-width="2.4" stroke-linecap="round" fill="none"/>
<path d="M44.0,22.0 C44.7,23.0 46.6,25.8 48.0,28.0 C49.4,30.2 51.2,32.8 52.6,35.0 C54.0,37.2 55.5,40.2 56.1,41.2" stroke="#2f6ab8" stroke-width="2.4" stroke-linecap="round" fill="none"/>
</g>
<g transform="translate(136,266)" filter="url(#bl2)">
<ellipse cx="30.5" cy="30.8" rx="4.8" ry="5.7" fill="#f5161e" opacity="1"/>
<ellipse cx="69.9" cy="71.5" rx="3.7" ry="4.6" fill="#f5161e" opacity="1"/>
</g></g>
<rect x="235.30" y="266.60" width="91.10" height="97.60" fill="#060908"/>
<clipPath id="lc2"><rect x="235.3" y="266.6" width="91.1" height="97.6"/></clipPath>
<g clip-path="url(#lc2)"><g transform="translate(235,266)" filter="url(#bl)">
<path d="M36.8,36.8 C36.4,36.2 34.7,35.9 33.3,35.9 C31.9,35.9 24.4,35.8 22.8,36.8 C21.2,37.8 18.4,43.5 17.5,45.6 C16.6,47.7 14.6,55.3 14.0,57.8 C13.4,60.2 11.6,68.2 11.4,70.1 C11.2,72.0 11.2,75.7 12.3,77.1 C13.4,78.5 20.2,82.9 22.8,84.1 C25.4,85.3 36.0,88.6 38.5,89.4 C41.0,90.2 45.4,92.1 47.3,92.0 C49.2,91.9 55.5,89.5 57.8,88.5 C60.1,87.5 68.2,83.5 70.1,82.4 C72.0,81.3 76.4,78.3 77.1,77.1 C77.8,75.9 77.8,72.7 77.1,70.1 C76.4,67.5 71.5,54.5 70.1,50.8 C68.7,47.1 64.2,35.3 63.1,33.3 C62.1,31.3 60.2,30.5 59.6,30.7 C59.0,30.9 57.4,33.7 56.9,35.0 C56.4,36.3 54.8,42.2 54.3,43.8 C53.8,45.4 52.4,49.9 51.7,50.8 C51.0,51.7 48.3,52.6 47.3,52.6 C46.3,52.6 42.8,51.3 42.0,50.8 C41.2,50.3 39.8,48.2 39.4,47.3 C39.0,46.4 38.0,43.0 37.7,42.0 C37.4,41.0 37.2,37.4 36.8,36.8Z" fill="#2459a2"/>
<clipPath id="lb2"><path d="M36.8,36.8 C36.4,36.2 34.7,35.9 33.3,35.9 C31.9,35.9 24.4,35.8 22.8,36.8 C21.2,37.8 18.4,43.5 17.5,45.6 C16.6,47.7 14.6,55.3 14.0,57.8 C13.4,60.2 11.6,68.2 11.4,70.1 C11.2,72.0 11.2,75.7 12.3,77.1 C13.4,78.5 20.2,82.9 22.8,84.1 C25.4,85.3 36.0,88.6 38.5,89.4 C41.0,90.2 45.4,92.1 47.3,92.0 C49.2,91.9 55.5,89.5 57.8,88.5 C60.1,87.5 68.2,83.5 70.1,82.4 C72.0,81.3 76.4,78.3 77.1,77.1 C77.8,75.9 77.8,72.7 77.1,70.1 C76.4,67.5 71.5,54.5 70.1,50.8 C68.7,47.1 64.2,35.3 63.1,33.3 C62.1,31.3 60.2,30.5 59.6,30.7 C59.0,30.9 57.4,33.7 56.9,35.0 C56.4,36.3 54.8,42.2 54.3,43.8 C53.8,45.4 52.4,49.9 51.7,50.8 C51.0,51.7 48.3,52.6 47.3,52.6 C46.3,52.6 42.8,51.3 42.0,50.8 C41.2,50.3 39.8,48.2 39.4,47.3 C39.0,46.4 38.0,43.0 37.7,42.0 C37.4,41.0 37.2,37.4 36.8,36.8Z"/></clipPath><g clip-path="url(#lb2)">
<rect x="0" y="22" width="92" height="76" fill="url(#lgd)"/>
<rect x="0" y="0" width="92" height="100" filter="url(#ltl)" opacity="0.8"/>
<clipPath id="lh2"><rect x="-20" y="-20" width="68" height="140"/></clipPath><clipPath id="rh2"><rect x="48" y="-20" width="70" height="140"/></clipPath>
<g clip-path="url(#lh2)"><rect x="-30" y="-10" width="150" height="130" filter="url(#ltx)" opacity="0.65" transform="rotate(-22 47 93)"/></g>
<g clip-path="url(#rh2)"><rect x="-30" y="-10" width="150" height="130" filter="url(#ltx)" opacity="0.65" transform="rotate(20 47 93)"/></g>
<ellipse cx="52.4" cy="76.0" rx="9.8" ry="3.6" fill="#0d2450" opacity="0.22"/>
<ellipse cx="23.3" cy="79.7" rx="6.7" ry="4.1" fill="#0d2450" opacity="0.22"/>
<ellipse cx="60.7" cy="60.5" rx="9.5" ry="4.5" fill="#0d2450" opacity="0.22"/>
<ellipse cx="23.6" cy="82.5" rx="7.9" ry="3.2" fill="#0d2450" opacity="0.22"/>
<path d="M36.8,42.0 C35.7,42.8 32.7,45.1 30.3,46.5 C27.8,48.0 24.6,48.9 22.3,50.7 C20.0,52.5 18.3,55.7 16.6,57.5 C14.9,59.3 12.9,60.9 12.2,61.6" stroke="#3a7fd0" stroke-width="1.6" fill="none" opacity="0.7" stroke-linecap="round"/>
<path d="M36.8,42.0 C37.1,43.3 38.1,47.5 38.6,49.6 C39.1,51.7 39.3,53.0 39.8,54.9 C40.3,56.7 41.2,58.4 41.6,60.8 C42.1,63.2 42.4,68.0 42.6,69.5" stroke="#3a7fd0" stroke-width="1.8" fill="none" opacity="0.7" stroke-linecap="round"/>
<path d="M36.8,42.0 C37.1,43.3 37.5,47.0 38.3,49.7 C39.1,52.3 40.3,55.4 41.7,58.0 C43.2,60.6 45.0,63.2 47.0,65.1 C49.1,67.0 52.9,68.6 54.0,69.2" stroke="#3a7fd0" stroke-width="1.3" fill="none" opacity="0.7" stroke-linecap="round"/>
<path d="M36.8,42.0 C36.7,43.0 36.4,45.8 36.2,48.2 C36.0,50.6 35.8,54.0 35.8,56.5 C35.8,58.9 36.4,60.9 36.3,62.9 C36.2,64.9 35.6,67.6 35.4,68.5" stroke="#3a7fd0" stroke-width="1.4" fill="none" opacity="0.7" stroke-linecap="round"/>
<path d="M54.3,41.2 C54.3,42.1 54.4,44.8 54.0,46.9 C53.7,48.9 52.4,51.4 52.2,53.6 C52.0,55.8 52.1,57.9 52.6,59.9 C53.1,62.0 54.8,64.8 55.2,65.8" stroke="#3a7fd0" stroke-width="1.1" fill="none" opacity="0.7" stroke-linecap="round"/>
<path d="M54.3,41.2 C54.9,42.3 56.7,46.0 58.0,48.0 C59.3,50.1 60.7,51.6 62.2,53.5 C63.6,55.3 65.5,57.4 66.6,59.3 C67.6,61.2 68.1,64.0 68.4,64.9" stroke="#3a7fd0" stroke-width="1.8" fill="none" opacity="0.7" stroke-linecap="round"/>
<path d="M54.3,41.2 C53.8,42.4 51.6,46.2 51.0,48.2 C50.5,50.3 51.2,51.6 50.8,53.4 C50.5,55.3 49.8,57.6 49.2,59.4 C48.6,61.2 47.5,63.6 47.2,64.4" stroke="#3a7fd0" stroke-width="1.6" fill="none" opacity="0.7" stroke-linecap="round"/>
<path d="M54.3,41.2 C54.5,42.0 55.4,43.9 55.4,46.1 C55.5,48.3 55.2,51.8 54.7,54.4 C54.2,57.0 53.0,59.5 52.6,61.6 C52.2,63.8 52.3,66.4 52.2,67.4" stroke="#3a7fd0" stroke-width="1.8" fill="none" opacity="0.7" stroke-linecap="round"/>
<path d="M34.8,58.4 q6.1,-1.9 11.8,-6.0" stroke="#3a7fd0" stroke-width="1.5" fill="none" opacity="0.6" stroke-linecap="round"/>
<path d="M32.7,49.8 q-0.6,3.9 -9.5,3.1" stroke="#3a7fd0" stroke-width="1.5" fill="none" opacity="0.6" stroke-linecap="round"/>
<path d="M16.8,62.2 q-3.0,-0.4 7.9,-0.4" stroke="#3a7fd0" stroke-width="1.0" fill="none" opacity="0.6" stroke-linecap="round"/>
<path d="M27.2,73.6 q-5.6,2.6 11.9,5.2" stroke="#3a7fd0" stroke-width="1.5" fill="none" opacity="0.6" stroke-linecap="round"/>
<path d="M22.5,66.3 q1.7,-5.0 -1.6,-3.3" stroke="#3a7fd0" stroke-width="0.9" fill="none" opacity="0.6" stroke-linecap="round"/>
<path d="M39.0,48.0 q6.7,-4.0 1.1,5.6" stroke="#3a7fd0" stroke-width="0.8" fill="none" opacity="0.6" stroke-linecap="round"/>
</g>
<path d="M42.9,0.0 C42.8,2.2 42.6,8.6 42.5,13.0 C42.4,17.4 42.1,23.5 42.0,26.3 C41.9,29.1 42.0,29.2 42.0,29.8" stroke="#2f6ab8" stroke-width="2.9" stroke-linecap="round" fill="none"/>
<path d="M42.0,29.8 C41.3,31.0 38.6,34.8 37.7,36.8 C36.8,38.8 36.9,41.1 36.8,42.0" stroke="#2f6ab8" stroke-width="2.4" stroke-linecap="round" fill="none"/>
<path d="M42.0,29.8 C42.9,30.7 45.2,33.1 47.3,35.0 C49.3,36.9 53.1,40.2 54.3,41.2" stroke="#2f6ab8" stroke-width="2.4" stroke-linecap="round" fill="none"/>
</g>
<g transform="translate(235,266)" filter="url(#bl2)">
<ellipse cx="28.6" cy="30.2" rx="6.6" ry="5.7" fill="#f5161e" opacity="1"/>
<ellipse cx="28" cy="37.7" rx="5" ry="3.5" fill="#8a3a8a" opacity="0.55"/>
<ellipse cx="61.3" cy="74.4" rx="7.4" ry="10" fill="#f5161e" opacity="1"/>
</g></g>
<rect x="380.20" y="266.60" width="91.60" height="97.60" fill="#060908"/>
<clipPath id="lc3"><rect x="380.2" y="266.6" width="91.6" height="97.6"/></clipPath>
<g clip-path="url(#lc3)"><g transform="translate(380,266)" filter="url(#bl)">
<path d="M37.5,39.6 C36.8,38.1 35.5,33.9 34.7,32.2 C33.8,30.5 30.1,23.7 29.2,23.0 C28.3,22.2 26.4,23.8 25.5,24.9 C24.6,26.0 21.0,32.0 20.0,34.0 C18.9,36.0 16.2,43.3 15.3,45.1 C14.5,47.0 12.3,51.0 11.7,52.5 C11.0,53.9 9.5,58.2 8.9,59.8 C8.4,61.5 6.5,67.3 6.2,69.0 C5.9,70.6 5.6,74.8 6.2,76.3 C6.8,77.8 10.5,82.3 12.6,83.8 C14.7,85.2 24.2,89.7 27.3,91.1 C30.4,92.5 40.8,97.3 43.9,97.5 C47.0,97.7 55.5,94.3 58.6,92.9 C61.7,91.5 72.4,85.6 75.2,83.8 C77.9,81.9 85.3,76.7 86.2,74.5 C87.1,72.3 85.3,64.5 84.4,61.6 C83.5,58.7 78.4,48.2 77.0,45.1 C75.5,42.0 70.7,32.2 69.6,30.3 C68.5,28.4 66.7,24.9 65.9,25.8 C65.2,26.7 63.2,37.4 62.3,39.6 C61.4,41.7 58.1,46.0 56.8,46.9 C55.5,47.8 50.9,48.8 49.5,48.8 C48.0,48.8 43.2,47.8 42.0,46.9 C40.8,46.0 38.2,41.0 37.5,39.6Z" fill="#204e93"/>
<clipPath id="lb3"><path d="M37.5,39.6 C36.8,38.1 35.5,33.9 34.7,32.2 C33.8,30.5 30.1,23.7 29.2,23.0 C28.3,22.2 26.4,23.8 25.5,24.9 C24.6,26.0 21.0,32.0 20.0,34.0 C18.9,36.0 16.2,43.3 15.3,45.1 C14.5,47.0 12.3,51.0 11.7,52.5 C11.0,53.9 9.5,58.2 8.9,59.8 C8.4,61.5 6.5,67.3 6.2,69.0 C5.9,70.6 5.6,74.8 6.2,76.3 C6.8,77.8 10.5,82.3 12.6,83.8 C14.7,85.2 24.2,89.7 27.3,91.1 C30.4,92.5 40.8,97.3 43.9,97.5 C47.0,97.7 55.5,94.3 58.6,92.9 C61.7,91.5 72.4,85.6 75.2,83.8 C77.9,81.9 85.3,76.7 86.2,74.5 C87.1,72.3 85.3,64.5 84.4,61.6 C83.5,58.7 78.4,48.2 77.0,45.1 C75.5,42.0 70.7,32.2 69.6,30.3 C68.5,28.4 66.7,24.9 65.9,25.8 C65.2,26.7 63.2,37.4 62.3,39.6 C61.4,41.7 58.1,46.0 56.8,46.9 C55.5,47.8 50.9,48.8 49.5,48.8 C48.0,48.8 43.2,47.8 42.0,46.9 C40.8,46.0 38.2,41.0 37.5,39.6Z"/></clipPath><g clip-path="url(#lb3)">
<rect x="0" y="22" width="92" height="76" fill="url(#lgd)"/>
<rect x="0" y="0" width="92" height="100" filter="url(#ltl)" opacity="0.45"/>
<clipPath id="lh3"><rect x="-20" y="-20" width="68" height="140"/></clipPath><clipPath id="rh3"><rect x="48" y="-20" width="70" height="140"/></clipPath>
<g clip-path="url(#lh3)"><rect x="-30" y="-10" width="150" height="130" filter="url(#ltx)" opacity="0.8" transform="rotate(-22 47 93)"/></g>
<g clip-path="url(#rh3)"><rect x="-30" y="-10" width="150" height="130" filter="url(#ltx)" opacity="0.8" transform="rotate(20 47 93)"/></g>
<ellipse cx="42.9" cy="81.3" rx="5.2" ry="3.8" fill="#0d2450" opacity="0.22"/>
<ellipse cx="68.1" cy="74.9" rx="5.6" ry="4.0" fill="#0d2450" opacity="0.22"/>
<ellipse cx="64.0" cy="68.2" rx="5.1" ry="5.7" fill="#0d2450" opacity="0.22"/>
<ellipse cx="26.5" cy="74.2" rx="8.1" ry="4.4" fill="#0d2450" opacity="0.22"/>
<path d="M37.7,45.6 C36.9,46.5 34.1,48.8 32.6,51.0 C31.1,53.2 29.6,56.5 28.8,59.0 C27.9,61.5 28.4,63.5 27.6,65.9 C26.8,68.4 24.6,72.4 24.0,73.7" stroke="#3a7fd0" stroke-width="1.1" fill="none" opacity="0.7" stroke-linecap="round"/>
<path d="M37.7,45.6 C36.8,46.1 34.0,47.7 32.1,48.4 C30.2,49.1 28.2,49.2 26.4,49.9 C24.6,50.7 23.4,51.5 21.5,52.8 C19.7,54.2 16.2,57.3 15.2,58.1" stroke="#3a7fd0" stroke-width="1.5" fill="none" opacity="0.7" stroke-linecap="round"/>
<path d="M37.7,45.6 C36.7,45.8 33.8,46.3 32.0,46.6 C30.1,47.0 28.9,47.5 26.8,47.9 C24.8,48.3 21.6,48.8 19.5,49.1 C17.4,49.4 15.1,49.5 14.2,49.6" stroke="#3a7fd0" stroke-width="1.6" fill="none" opacity="0.7" stroke-linecap="round"/>
<path d="M37.7,45.6 C38.3,46.6 39.7,49.4 41.5,51.3 C43.2,53.2 46.7,55.0 48.4,56.9 C50.2,58.7 51.0,60.4 51.7,62.3 C52.5,64.2 52.7,67.3 53.0,68.3" stroke="#3a7fd0" stroke-width="1.5" fill="none" opacity="0.7" stroke-linecap="round"/>
<path d="M57.8,42.0 C57.5,42.8 56.1,45.1 55.8,46.9 C55.4,48.6 55.6,50.2 55.7,52.5 C55.7,54.8 56.2,58.4 56.2,60.6 C56.2,62.9 55.7,65.1 55.6,66.0" stroke="#3a7fd0" stroke-width="1.7" fill="none" opacity="0.7" stroke-linecap="round"/>
<path d="M57.8,42.0 C58.8,42.6 61.9,43.7 63.9,45.3 C65.8,47.0 67.7,49.7 69.7,51.7 C71.6,53.7 73.7,56.0 75.5,57.5 C77.2,58.9 79.5,59.9 80.3,60.4" stroke="#3a7fd0" stroke-width="2.0" fill="none" opacity="0.7" stroke-linecap="round"/>
<path d="M57.8,42.0 C57.7,43.1 57.5,46.4 57.1,48.3 C56.7,50.2 55.8,51.1 55.4,53.3 C55.0,55.4 54.7,59.0 54.7,61.4 C54.7,63.9 55.4,67.0 55.5,68.1" stroke="#3a7fd0" stroke-width="1.4" fill="none" opacity="0.7" stroke-linecap="round"/>
<path d="M57.8,42.0 C58.0,43.0 58.9,45.6 59.0,47.9 C59.2,50.2 59.1,53.8 58.7,55.9 C58.3,58.0 57.2,58.5 56.7,60.7 C56.2,62.9 55.9,67.6 55.7,69.0" stroke="#3a7fd0" stroke-width="1.3" fill="none" opacity="0.7" stroke-linecap="round"/>
<path d="M62.6,55.6 q-1.7,2.0 -1.8,1.6" stroke="#3a7fd0" stroke-width="0.8" fill="none" opacity="0.6" stroke-linecap="round"/>
<path d="M66.3,66.7 q-3.9,-0.3 3.3,10.5" stroke="#3a7fd0" stroke-width="0.8" fill="none" opacity="0.6" stroke-linecap="round"/>
<path d="M70.6,65.6 q-7.3,-1.6 5.4,-7.5" stroke="#3a7fd0" stroke-width="1.3" fill="none" opacity="0.6" stroke-linecap="round"/>
<path d="M48.6,65.1 q-7.6,-5.8 11.2,-6.4" stroke="#3a7fd0" stroke-width="0.9" fill="none" opacity="0.6" stroke-linecap="round"/>
<path d="M49.1,45.6 q3.7,3.2 -3.9,3.2" stroke="#3a7fd0" stroke-width="1.2" fill="none" opacity="0.6" stroke-linecap="round"/>
<path d="M56.2,51.1 q-7.5,-4.9 10.4,11.7" stroke="#3a7fd0" stroke-width="1.0" fill="none" opacity="0.6" stroke-linecap="round"/>
</g>
<path d="M45.6,3.5 C45.5,5.4 45.4,11.2 45.2,15.0 C45.1,18.8 44.8,24.4 44.7,26.3" stroke="#2f6ab8" stroke-width="4.2" stroke-linecap="round" fill="none"/>
<path d="M44.7,26.3 C44.0,27.8 41.5,31.8 40.3,35.0 C39.1,38.2 38.1,43.8 37.7,45.6" stroke="#2f6ab8" stroke-width="3.5" stroke-linecap="round" fill="none"/>
<path d="M44.7,26.3 C45.7,27.5 48.6,30.7 50.8,33.3 C53.0,35.9 56.6,40.5 57.8,42.0" stroke="#2f6ab8" stroke-width="3.5" stroke-linecap="round" fill="none"/>
</g>
<g transform="translate(380,266)" filter="url(#bl2)">
<ellipse cx="69.2" cy="47" rx="3.3" ry="3" fill="#e0202a" opacity="0.85"/>
<ellipse cx="69.2" cy="68.3" rx="8.5" ry="8.5" fill="#b02a50" opacity="0.55"/>
<ellipse cx="67.5" cy="62.2" rx="2" ry="1.5" fill="#f5161e" opacity="0.9"/>
<ellipse cx="75.3" cy="67.5" rx="2" ry="1.5" fill="#f5161e" opacity="0.9"/>
</g></g>
<rect x="478.80" y="266.60" width="91.30" height="97.60" fill="#060908"/>
<clipPath id="lc4"><rect x="478.8" y="266.6" width="91.3" height="97.6"/></clipPath>
<g clip-path="url(#lc4)"><g transform="translate(478,266)" filter="url(#bl)">
<path d="M40.1,36.9 C39.2,35.8 35.6,34.6 34.6,34.1 C33.5,33.5 30.1,31.4 29.1,31.4 C28.1,31.4 25.7,32.7 24.6,34.1 C23.5,35.4 19.3,43.1 18.2,45.1 C17.1,47.1 14.6,52.0 13.6,54.1 C12.7,56.3 9.8,64.7 9.1,66.9 C8.3,69.1 5.8,74.3 6.4,76.0 C6.9,77.6 11.8,82.1 14.6,83.4 C17.4,84.6 30.9,87.5 34.6,88.8 C38.2,90.0 48.6,95.5 51.0,96.1 C53.4,96.6 55.9,95.2 58.3,94.3 C60.6,93.4 71.6,88.6 74.7,87.0 C77.8,85.4 88.0,79.9 89.3,77.9 C90.5,75.8 88.6,69.8 87.5,66.9 C86.4,64.0 80.0,51.7 78.3,48.7 C76.7,45.8 72.2,39.2 71.1,37.7 C69.9,36.2 67.3,33.5 66.5,34.1 C65.7,34.6 63.7,41.6 62.8,43.2 C62.0,44.9 59.5,49.2 58.3,50.5 C57.1,51.8 52.3,55.8 51.0,56.0 C49.7,56.2 46.4,53.5 45.6,52.4 C44.8,51.3 43.3,46.6 42.8,45.1 C42.2,43.5 40.9,38.0 40.1,36.9Z" fill="#1b4381"/>
<clipPath id="lb4"><path d="M40.1,36.9 C39.2,35.8 35.6,34.6 34.6,34.1 C33.5,33.5 30.1,31.4 29.1,31.4 C28.1,31.4 25.7,32.7 24.6,34.1 C23.5,35.4 19.3,43.1 18.2,45.1 C17.1,47.1 14.6,52.0 13.6,54.1 C12.7,56.3 9.8,64.7 9.1,66.9 C8.3,69.1 5.8,74.3 6.4,76.0 C6.9,77.6 11.8,82.1 14.6,83.4 C17.4,84.6 30.9,87.5 34.6,88.8 C38.2,90.0 48.6,95.5 51.0,96.1 C53.4,96.6 55.9,95.2 58.3,94.3 C60.6,93.4 71.6,88.6 74.7,87.0 C77.8,85.4 88.0,79.9 89.3,77.9 C90.5,75.8 88.6,69.8 87.5,66.9 C86.4,64.0 80.0,51.7 78.3,48.7 C76.7,45.8 72.2,39.2 71.1,37.7 C69.9,36.2 67.3,33.5 66.5,34.1 C65.7,34.6 63.7,41.6 62.8,43.2 C62.0,44.9 59.5,49.2 58.3,50.5 C57.1,51.8 52.3,55.8 51.0,56.0 C49.7,56.2 46.4,53.5 45.6,52.4 C44.8,51.3 43.3,46.6 42.8,45.1 C42.2,43.5 40.9,38.0 40.1,36.9Z"/></clipPath><g clip-path="url(#lb4)">
<rect x="0" y="22" width="92" height="76" fill="url(#lgd)"/>
<rect x="0" y="0" width="92" height="100" filter="url(#ltl)" opacity="0.45"/>
<clipPath id="lh4"><rect x="-20" y="-20" width="68" height="140"/></clipPath><clipPath id="rh4"><rect x="48" y="-20" width="70" height="140"/></clipPath>
<g clip-path="url(#lh4)"><rect x="-30" y="-10" width="150" height="130" filter="url(#ltx)" opacity="0.8" transform="rotate(-22 47 93)"/></g>
<g clip-path="url(#rh4)"><rect x="-30" y="-10" width="150" height="130" filter="url(#ltx)" opacity="0.8" transform="rotate(20 47 93)"/></g>
<ellipse cx="50.9" cy="81.7" rx="7.3" ry="5.1" fill="#0d2450" opacity="0.22"/>
<ellipse cx="66.8" cy="70.6" rx="8.7" ry="5.2" fill="#0d2450" opacity="0.22"/>
<ellipse cx="62.9" cy="56.1" rx="5.8" ry="6.0" fill="#0d2450" opacity="0.22"/>
<ellipse cx="57.3" cy="62.8" rx="8.7" ry="3.5" fill="#0d2450" opacity="0.22"/>
<path d="M41.2,36.8 C41.5,37.7 42.2,40.5 43.3,42.3 C44.3,44.2 46.2,46.1 47.5,48.0 C48.7,49.8 49.5,51.1 50.6,53.4 C51.7,55.7 53.5,60.2 54.1,61.6" stroke="#3a7fd0" stroke-width="1.1" fill="none" opacity="0.7" stroke-linecap="round"/>
<path d="M41.2,36.8 C42.1,37.7 45.0,40.5 46.8,42.1 C48.6,43.7 50.0,45.0 52.0,46.4 C54.1,47.7 57.2,48.8 59.2,50.1 C61.3,51.5 63.6,53.7 64.5,54.5" stroke="#3a7fd0" stroke-width="1.8" fill="none" opacity="0.7" stroke-linecap="round"/>
<path d="M41.2,36.8 C42.2,37.9 45.3,41.8 47.0,43.5 C48.7,45.1 49.5,45.9 51.5,46.8 C53.5,47.7 56.9,48.0 58.9,48.8 C60.9,49.5 62.7,50.9 63.4,51.4" stroke="#3a7fd0" stroke-width="1.5" fill="none" opacity="0.7" stroke-linecap="round"/>
<path d="M41.2,36.8 C41.6,37.7 42.6,40.6 43.3,42.3 C44.1,44.1 45.3,45.5 45.8,47.3 C46.3,49.1 46.3,50.9 46.5,53.1 C46.7,55.3 47.1,59.4 47.2,60.6" stroke="#3a7fd0" stroke-width="1.7" fill="none" opacity="0.7" stroke-linecap="round"/>
<path d="M57.8,45.6 C57.9,47.1 57.8,52.0 58.1,54.3 C58.5,56.7 59.0,57.8 59.8,59.9 C60.7,62.0 62.2,64.9 63.4,67.0 C64.5,69.2 66.1,71.8 66.6,72.7" stroke="#3a7fd0" stroke-width="1.1" fill="none" opacity="0.7" stroke-linecap="round"/>
<path d="M57.8,45.6 C58.4,46.4 60.3,48.6 61.6,50.1 C62.9,51.6 64.2,53.2 65.6,54.5 C67.0,55.9 68.6,56.5 70.1,58.2 C71.5,59.9 73.4,63.5 74.0,64.6" stroke="#3a7fd0" stroke-width="1.5" fill="none" opacity="0.7" stroke-linecap="round"/>
<path d="M57.8,45.6 C58.2,46.7 59.2,50.5 60.1,52.5 C61.1,54.4 62.6,55.3 63.5,57.1 C64.3,58.9 64.5,61.3 65.1,63.2 C65.6,65.1 66.5,67.4 66.8,68.3" stroke="#3a7fd0" stroke-width="1.9" fill="none" opacity="0.7" stroke-linecap="round"/>
<path d="M57.8,45.6 C58.4,46.7 60.5,50.4 61.6,52.5 C62.8,54.6 63.3,56.3 64.6,58.3 C65.9,60.2 67.7,62.5 69.5,64.4 C71.2,66.2 74.2,68.4 75.1,69.2" stroke="#3a7fd0" stroke-width="2.0" fill="none" opacity="0.7" stroke-linecap="round"/>
<path d="M70.4,68.5 q1.5,-4.1 7.5,10.0" stroke="#3a7fd0" stroke-width="1.1" fill="none" opacity="0.6" stroke-linecap="round"/>
<path d="M18.7,63.6 q-1.1,4.2 6.1,-0.5" stroke="#3a7fd0" stroke-width="1.2" fill="none" opacity="0.6" stroke-linecap="round"/>
<path d="M43.8,68.1 q2.2,1.9 -6.8,7.7" stroke="#3a7fd0" stroke-width="0.8" fill="none" opacity="0.6" stroke-linecap="round"/>
<path d="M30.8,64.5 q-7.6,1.2 -4.3,-2.6" stroke="#3a7fd0" stroke-width="0.9" fill="none" opacity="0.6" stroke-linecap="round"/>
<path d="M37.8,65.2 q-7.2,4.0 11.6,1.5" stroke="#3a7fd0" stroke-width="1.2" fill="none" opacity="0.6" stroke-linecap="round"/>
<path d="M64.1,67.9 q2.7,-0.3 0.5,-2.0" stroke="#3a7fd0" stroke-width="0.9" fill="none" opacity="0.6" stroke-linecap="round"/>
</g>
<path d="M45.9,0.0 C45.8,2.5 45.4,10.0 45.0,15.0 C44.6,20.0 44.0,27.3 43.8,29.8" stroke="#2f6ab8" stroke-width="3.1" stroke-linecap="round" fill="none"/>
<path d="M43.8,29.8 C43.4,31.0 41.6,35.6 41.2,36.8" stroke="#2f6ab8" stroke-width="2.5" stroke-linecap="round" fill="none"/>
<path d="M43.8,29.8 C44.8,31.0 47.6,34.2 49.9,36.8 C52.2,39.4 56.5,44.1 57.8,45.6" stroke="#2f6ab8" stroke-width="2.5" stroke-linecap="round" fill="none"/>
</g>
<g transform="translate(478,266)" filter="url(#bl2)">
<ellipse cx="71" cy="51.7" rx="2.7" ry="2.2" fill="#e0202a" opacity="0.9"/>
<ellipse cx="75.3" cy="69.6" rx="6.3" ry="5.3" fill="#d01f30" opacity="0.8"/>
</g></g>
<rect x="577.30" y="266.60" width="91.90" height="97.60" fill="#060908"/>
<clipPath id="lc5"><rect x="577.3" y="266.6" width="91.9" height="97.6"/></clipPath>
<g clip-path="url(#lc5)"><g transform="translate(577,266)" filter="url(#bl)">
<path d="M37.4,41.2 C36.8,40.0 33.7,35.3 32.8,33.9 C31.9,32.4 29.1,27.1 28.2,26.5 C27.2,26.0 24.5,27.1 23.5,28.4 C22.5,29.7 19.1,37.2 18.1,39.4 C17.1,41.6 14.4,48.1 13.5,50.5 C12.5,52.9 9.5,61.0 8.8,63.4 C8.2,65.8 6.7,72.7 7.1,74.4 C7.4,76.1 10.9,78.6 12.5,80.0 C14.2,81.3 21.3,86.8 23.5,87.9 C25.7,89.1 32.3,90.8 34.6,91.6 C36.8,92.5 43.8,96.2 45.7,96.3 C47.5,96.4 51.0,93.6 53.0,92.7 C55.1,91.7 63.3,88.2 65.9,86.9 C68.4,85.6 77.1,81.2 78.8,79.5 C80.4,77.9 82.4,73.1 82.4,70.7 C82.4,68.4 79.9,59.0 78.8,56.0 C77.7,53.1 72.7,43.7 71.4,41.2 C70.1,38.7 66.7,31.9 65.9,31.1 C65.0,30.4 63.7,32.9 63.1,33.9 C62.6,34.9 61.0,39.9 60.4,41.2 C59.8,42.5 57.8,45.8 56.7,46.8 C55.6,47.8 50.8,51.0 49.4,51.4 C48.0,51.8 43.9,51.0 42.9,50.5 C41.8,49.9 39.7,46.8 39.2,45.8 C38.6,44.9 38.0,42.4 37.4,41.2Z" fill="#1d4887"/>
<clipPath id="lb5"><path d="M37.4,41.2 C36.8,40.0 33.7,35.3 32.8,33.9 C31.9,32.4 29.1,27.1 28.2,26.5 C27.2,26.0 24.5,27.1 23.5,28.4 C22.5,29.7 19.1,37.2 18.1,39.4 C17.1,41.6 14.4,48.1 13.5,50.5 C12.5,52.9 9.5,61.0 8.8,63.4 C8.2,65.8 6.7,72.7 7.1,74.4 C7.4,76.1 10.9,78.6 12.5,80.0 C14.2,81.3 21.3,86.8 23.5,87.9 C25.7,89.1 32.3,90.8 34.6,91.6 C36.8,92.5 43.8,96.2 45.7,96.3 C47.5,96.4 51.0,93.6 53.0,92.7 C55.1,91.7 63.3,88.2 65.9,86.9 C68.4,85.6 77.1,81.2 78.8,79.5 C80.4,77.9 82.4,73.1 82.4,70.7 C82.4,68.4 79.9,59.0 78.8,56.0 C77.7,53.1 72.7,43.7 71.4,41.2 C70.1,38.7 66.7,31.9 65.9,31.1 C65.0,30.4 63.7,32.9 63.1,33.9 C62.6,34.9 61.0,39.9 60.4,41.2 C59.8,42.5 57.8,45.8 56.7,46.8 C55.6,47.8 50.8,51.0 49.4,51.4 C48.0,51.8 43.9,51.0 42.9,50.5 C41.8,49.9 39.7,46.8 39.2,45.8 C38.6,44.9 38.0,42.4 37.4,41.2Z"/></clipPath><g clip-path="url(#lb5)">
<rect x="0" y="22" width="92" height="76" fill="url(#lgd)"/>
<rect x="0" y="0" width="92" height="100" filter="url(#ltl)" opacity="0.45"/>
<clipPath id="lh5"><rect x="-20" y="-20" width="68" height="140"/></clipPath><clipPath id="rh5"><rect x="48" y="-20" width="70" height="140"/></clipPath>
<g clip-path="url(#lh5)"><rect x="-30" y="-10" width="150" height="130" filter="url(#ltx)" opacity="0.8" transform="rotate(-22 47 93)"/></g>
<g clip-path="url(#rh5)"><rect x="-30" y="-10" width="150" height="130" filter="url(#ltx)" opacity="0.8" transform="rotate(20 47 93)"/></g>
<ellipse cx="23.5" cy="68.0" rx="6.2" ry="4.3" fill="#0d2450" opacity="0.22"/>
<ellipse cx="32.8" cy="80.8" rx="7.8" ry="5.2" fill="#0d2450" opacity="0.22"/>
<ellipse cx="66.3" cy="69.8" rx="7.3" ry="3.4" fill="#0d2450" opacity="0.22"/>
<ellipse cx="59.2" cy="57.1" rx="6.8" ry="3.5" fill="#0d2450" opacity="0.22"/>
<path d="M37.7,40.3 C37.2,41.3 35.7,44.3 34.5,46.6 C33.3,48.8 32.1,52.0 30.6,53.9 C29.1,55.9 27.6,56.9 25.6,58.1 C23.6,59.3 19.6,60.6 18.4,61.1" stroke="#3a7fd0" stroke-width="1.7" fill="none" opacity="0.7" stroke-linecap="round"/>
<path d="M37.7,40.3 C36.9,41.0 34.6,43.2 33.1,44.6 C31.6,46.0 30.0,47.4 28.7,48.9 C27.4,50.4 27.0,52.0 25.2,53.6 C23.4,55.2 19.1,57.8 17.9,58.6" stroke="#3a7fd0" stroke-width="1.9" fill="none" opacity="0.7" stroke-linecap="round"/>
<path d="M37.7,40.3 C37.1,41.2 35.3,43.9 34.3,45.6 C33.4,47.2 32.5,48.1 31.9,50.0 C31.3,51.9 31.0,54.4 30.6,56.8 C30.3,59.2 29.9,63.1 29.7,64.3" stroke="#3a7fd0" stroke-width="1.6" fill="none" opacity="0.7" stroke-linecap="round"/>
<path d="M37.7,40.3 C38.3,41.2 40.2,44.0 41.5,45.8 C42.8,47.6 43.7,49.1 45.3,51.1 C46.9,53.1 49.7,55.6 51.0,57.6 C52.3,59.6 52.7,62.1 53.0,63.0" stroke="#3a7fd0" stroke-width="1.9" fill="none" opacity="0.7" stroke-linecap="round"/>
<path d="M56.1,43.8 C55.3,44.4 53.1,46.4 51.1,47.4 C49.2,48.4 46.1,49.0 44.2,49.6 C42.2,50.3 41.0,50.8 39.3,51.4 C37.6,52.0 34.8,52.9 33.9,53.2" stroke="#3a7fd0" stroke-width="1.3" fill="none" opacity="0.7" stroke-linecap="round"/>
<path d="M56.1,43.8 C55.2,44.9 52.3,48.4 50.9,50.2 C49.6,52.1 48.9,53.2 47.9,54.8 C47.0,56.4 46.0,57.7 45.3,59.8 C44.6,61.9 43.9,66.1 43.6,67.3" stroke="#3a7fd0" stroke-width="1.7" fill="none" opacity="0.7" stroke-linecap="round"/>
<path d="M56.1,43.8 C56.7,44.8 58.4,48.4 59.6,50.0 C60.9,51.7 62.0,51.9 63.6,53.6 C65.2,55.4 67.6,58.1 69.0,60.4 C70.4,62.7 71.5,66.0 72.0,67.2" stroke="#3a7fd0" stroke-width="1.1" fill="none" opacity="0.7" stroke-linecap="round"/>
<path d="M56.1,43.8 C55.9,45.1 54.7,49.0 54.6,51.8 C54.6,54.6 55.6,58.1 56.0,60.6 C56.3,63.0 56.3,64.5 56.9,66.4 C57.5,68.2 59.3,70.8 59.7,71.7" stroke="#3a7fd0" stroke-width="1.7" fill="none" opacity="0.7" stroke-linecap="round"/>
<path d="M31.1,47.7 q4.0,-4.0 -8.0,-5.3" stroke="#3a7fd0" stroke-width="0.9" fill="none" opacity="0.6" stroke-linecap="round"/>
<path d="M29.7,47.5 q-7.8,-4.6 -2.6,10.3" stroke="#3a7fd0" stroke-width="1.5" fill="none" opacity="0.6" stroke-linecap="round"/>
<path d="M48.0,50.7 q6.9,-2.8 0.5,2.3" stroke="#3a7fd0" stroke-width="1.1" fill="none" opacity="0.6" stroke-linecap="round"/>
<path d="M28.7,76.4 q-6.3,-1.9 4.6,-3.8" stroke="#3a7fd0" stroke-width="0.8" fill="none" opacity="0.6" stroke-linecap="round"/>
<path d="M19.9,70.4 q0.4,-1.6 8.2,4.2" stroke="#3a7fd0" stroke-width="1.0" fill="none" opacity="0.6" stroke-linecap="round"/>
<path d="M27.4,76.2 q-1.5,0.6 -3.3,10.7" stroke="#3a7fd0" stroke-width="1.3" fill="none" opacity="0.6" stroke-linecap="round"/>
</g>
<path d="M44.7,3.5 C44.6,5.4 44.3,10.6 44.0,15.0 C43.7,19.4 43.1,27.3 42.9,29.8" stroke="#2f6ab8" stroke-width="4.7" stroke-linecap="round" fill="none"/>
<path d="M42.9,29.8 C42.2,30.7 39.4,33.2 38.5,35.0 C37.6,36.8 37.8,39.4 37.7,40.3" stroke="#2f6ab8" stroke-width="3.8" stroke-linecap="round" fill="none"/>
<path d="M42.9,29.8 C43.9,30.7 46.9,32.7 49.1,35.0 C51.3,37.3 54.9,42.3 56.1,43.8" stroke="#2f6ab8" stroke-width="3.8" stroke-linecap="round" fill="none"/>
</g>
<g transform="translate(577,266)" filter="url(#bl2)">
<ellipse cx="67.5" cy="70.1" rx="4.8" ry="4" fill="#c02040" opacity="0.6"/>
</g></g>
<line x1="57.50" y1="389.70" x2="206.30" y2="389.70" stroke="#555555" stroke-width="1"/>
<line x1="57.50" y1="389.20" x2="57.50" y2="537.80" stroke="#555555" stroke-width="1"/>
<line x1="206.30" y1="389.20" x2="206.30" y2="537.80" stroke="#555555" stroke-width="1"/>
<line x1="50.50" y1="537.80" x2="57.50" y2="537.80" stroke="#555555" stroke-width="1"/>
<text x="49.50" y="541.70" font-size="9.8" text-anchor="end" fill="#231f20">0</text>
<line x1="50.50" y1="488.43" x2="57.50" y2="488.43" stroke="#555555" stroke-width="1"/>
<text x="49.50" y="492.33" font-size="9.8" text-anchor="end" fill="#231f20">200</text>
<line x1="50.50" y1="439.07" x2="57.50" y2="439.07" stroke="#555555" stroke-width="1"/>
<text x="49.50" y="442.97" font-size="9.8" text-anchor="end" fill="#231f20">400</text>
<line x1="50.50" y1="389.70" x2="57.50" y2="389.70" stroke="#555555" stroke-width="1"/>
<text x="49.50" y="393.60" font-size="9.8" text-anchor="end" fill="#231f20">600</text>
<text transform="translate(18.8,466) rotate(-90)" font-size="9.5" text-anchor="middle" fill="#231f20">CD8 staining</text>
<text transform="translate(29.2,466) rotate(-90)" font-size="9.5" text-anchor="middle" fill="#231f20">(relative tumor area)</text>
<rect x="69.00" y="513.12" width="22.50" height="24.68" fill="#231f20" stroke="#222" stroke-width="0.6"/>
<line x1="80.20" y1="513.12" x2="80.20" y2="502.20" stroke="#222" stroke-width="0.8"/>
<line x1="74.40" y1="502.20" x2="86.00" y2="502.20" stroke="#222" stroke-width="0.8"/>
<line x1="80.20" y1="537.80" x2="80.20" y2="543.50" stroke="#555555" stroke-width="1"/>
<rect x="103.30" y="500.53" width="22.40" height="37.27" fill="#d1d3d4" stroke="#222" stroke-width="0.6"/>
<line x1="114.50" y1="500.53" x2="114.50" y2="490.10" stroke="#222" stroke-width="0.8"/>
<line x1="108.70" y1="490.10" x2="120.30" y2="490.10" stroke="#222" stroke-width="0.8"/>
<line x1="114.50" y1="537.80" x2="114.50" y2="543.50" stroke="#555555" stroke-width="1"/>
<rect x="137.80" y="513.12" width="22.00" height="24.68" fill="#118fa9" stroke="#222" stroke-width="0.6"/>
<line x1="148.90" y1="513.12" x2="148.90" y2="499.30" stroke="#222" stroke-width="0.8"/>
<line x1="143.10" y1="499.30" x2="154.70" y2="499.30" stroke="#222" stroke-width="0.8"/>
<line x1="148.90" y1="537.80" x2="148.90" y2="543.50" stroke="#555555" stroke-width="1"/>
<rect x="172.30" y="464.00" width="22.10" height="73.80" fill="#a3151e" stroke="#222" stroke-width="0.6"/>
<line x1="183.30" y1="464.00" x2="183.30" y2="432.50" stroke="#222" stroke-width="0.8"/>
<line x1="177.50" y1="432.50" x2="189.10" y2="432.50" stroke="#222" stroke-width="0.8"/>
<line x1="183.30" y1="537.80" x2="183.30" y2="543.50" stroke="#555555" stroke-width="1"/>
<line x1="57.50" y1="537.80" x2="206.30" y2="537.80" stroke="#555555" stroke-width="1"/>
<circle cx="80.2" cy="487.9" r="2.15" fill="#8a8c8e" stroke="#333" stroke-width="0.6"/>
<circle cx="78.1" cy="504.2" r="2.15" fill="#8a8c8e" stroke="#333" stroke-width="0.6"/>
<circle cx="82.5" cy="505.6" r="2.15" fill="#8a8c8e" stroke="#333" stroke-width="0.6"/>
<circle cx="78.1" cy="514.3" r="2.15" fill="#8a8c8e" stroke="#333" stroke-width="0.6"/>
<circle cx="82.5" cy="513.4" r="2.15" fill="#8a8c8e" stroke="#333" stroke-width="0.6"/>
<circle cx="71.4" cy="518.3" r="2.15" fill="#8a8c8e" stroke="#333" stroke-width="0.6"/>
<circle cx="75.8" cy="520.1" r="2.15" fill="#8a8c8e" stroke="#333" stroke-width="0.6"/>
<circle cx="80.1" cy="521.8" r="2.15" fill="#8a8c8e" stroke="#333" stroke-width="0.6"/>
<circle cx="84.5" cy="523" r="2.15" fill="#8a8c8e" stroke="#333" stroke-width="0.6"/>
<circle cx="88.8" cy="523.7" r="2.15" fill="#8a8c8e" stroke="#333" stroke-width="0.6"/>
<circle cx="110.7" cy="489.9" r="2.15" fill="#8a8c8e" stroke="#333" stroke-width="0.6"/>
<circle cx="118.4" cy="487.4" r="2.15" fill="#8a8c8e" stroke="#333" stroke-width="0.6"/>
<circle cx="107.1" cy="500.6" r="2.15" fill="#8a8c8e" stroke="#333" stroke-width="0.6"/>
<circle cx="114.5" cy="503.3" r="2.15" fill="#8a8c8e" stroke="#333" stroke-width="0.6"/>
<circle cx="122.1" cy="504.9" r="2.15" fill="#8a8c8e" stroke="#333" stroke-width="0.6"/>
<circle cx="114.5" cy="511.6" r="2.15" fill="#8a8c8e" stroke="#333" stroke-width="0.6"/>
<circle cx="146.8" cy="486.8" r="2.15" fill="#118fa9" stroke="#333" stroke-width="0.6"/>
<circle cx="151.1" cy="492.8" r="2.15" fill="#118fa9" stroke="#333" stroke-width="0.6"/>
<circle cx="146.8" cy="507.3" r="2.15" fill="#118fa9" stroke="#333" stroke-width="0.6"/>
<circle cx="151.1" cy="509.7" r="2.15" fill="#118fa9" stroke="#333" stroke-width="0.6"/>
<circle cx="148.8" cy="516.7" r="2.15" fill="#118fa9" stroke="#333" stroke-width="0.6"/>
<circle cx="140.1" cy="521.3" r="2.15" fill="#118fa9" stroke="#333" stroke-width="0.6"/>
<circle cx="144.5" cy="521.4" r="2.15" fill="#118fa9" stroke="#333" stroke-width="0.6"/>
<circle cx="148.8" cy="522.3" r="2.15" fill="#118fa9" stroke="#333" stroke-width="0.6"/>
<circle cx="153.2" cy="523.4" r="2.15" fill="#118fa9" stroke="#333" stroke-width="0.6"/>
<circle cx="157.5" cy="525.4" r="2.15" fill="#118fa9" stroke="#333" stroke-width="0.6"/>
<circle cx="183.1" cy="419.3" r="2.15" fill="#f3a3a6" stroke="#333" stroke-width="0.6"/>
<circle cx="183.1" cy="433.6" r="2.15" fill="#f3a3a6" stroke="#333" stroke-width="0.6"/>
<circle cx="183.1" cy="461.8" r="2.15" fill="#f3a3a6" stroke="#333" stroke-width="0.6"/>
<circle cx="183.3" cy="483" r="2.15" fill="#f3a3a6" stroke="#333" stroke-width="0.6"/>
<circle cx="177.4" cy="490.1" r="2.15" fill="#f3a3a6" stroke="#333" stroke-width="0.6"/>
<circle cx="189.1" cy="493.5" r="2.15" fill="#f3a3a6" stroke="#333" stroke-width="0.6"/>
<text x="80.20" y="555.90" font-size="9.4" text-anchor="middle" fill="#231f20">Ctrl</text>
<text x="114.60" y="555.90" font-size="9.4" text-anchor="middle" fill="#231f20">Soto</text>
<text x="148.90" y="555.90" font-size="9.4" text-anchor="middle" fill="#231f20">Mido</text>
<text x="183.00" y="555.90" font-size="9.4" text-anchor="middle" fill="#231f20">Combo</text>
<line x1="116.00" y1="402.00" x2="183.90" y2="402.00" stroke="#333" stroke-width="1"/>
<text x="151.00" y="399.30" font-size="7" text-anchor="middle" fill="#444">p=0.0048</text>
<line x1="149.30" y1="414.80" x2="183.90" y2="414.80" stroke="#555" stroke-width="1"/>
<text x="166.50" y="412.30" font-size="7" text-anchor="middle" fill="#444">p&lt;0.001</text>
<text x="448.30" y="406.60" font-size="11" text-anchor="middle" font-weight="bold" fill="#111">T1</text>
<text x="275.20" y="421.60" font-size="9.2" text-anchor="middle" fill="#231f20">Ctrl</text>
<filter id="hf0" x="219.2" y="426.5" width="114.6" height="76.9" filterUnits="userSpaceOnUse" color-interpolation-filters="sRGB"><feTurbulence type="fractalNoise" baseFrequency="0.6" numOctaves="2" seed="3" result="n0"/><feColorMatrix in="n0" type="matrix" values="1 0 0 0 0  1 0 0 0 0  1 0 0 0 0  0 0 0 0 1" result="n"/><feGaussianBlur in="SourceGraphic" stdDeviation="0.5" result="s"/><feComposite in="n" in2="s" operator="arithmetic" k1="0" k2="1" k3="0.3" k4="-0.2" result="m"/><feColorMatrix in="m" type="matrix" values="0 0 0 0 0.44  0 0 0 0 0.51  0 0 0 0 0.75  16 0 0 0 -8" result="sp"/><feGaussianBlur in="sp" stdDeviation="0.45"/></filter>
<g transform="translate(219.2,426.5)">
<rect x="0" y="0" width="114.6" height="76.9" fill="#e0e4ee"/>
<path d="M19.5,4.5 C20.1,6.0 22.0,10.6 23.2,13.7 C24.4,16.8 25.9,19.5 26.8,22.8 C27.7,26.1 28.9,30.7 28.6,33.7 C28.3,36.7 25.6,39.8 25.0,41.0" stroke="#dfe4f1" stroke-width="3.8" fill="none" stroke-linecap="round"/>
<path d="M6.7,11.8 C6.4,13.9 4.9,20.3 4.9,24.6 C4.9,28.9 5.2,33.8 6.7,37.4 C8.2,41.0 11.6,44.7 14.0,46.5 C16.4,48.3 20.1,48.0 21.3,48.3" stroke="#dfe4f1" stroke-width="3.8" fill="none" stroke-linecap="round"/>
<path d="M37.8,24.6 C38.1,26.7 38.7,33.5 39.6,37.4 C40.5,41.3 41.4,44.3 43.2,48.3 C45.0,52.2 48.4,58.7 50.5,61.1 C52.6,63.5 55.1,62.6 56.0,62.9" stroke="#dfe4f1" stroke-width="4.3" fill="none" stroke-linecap="round"/>
<path d="M39.6,37.4 C38.7,38.6 35.0,43.5 34.1,44.7" stroke="#dfe4f1" stroke-width="3.4" fill="none" stroke-linecap="round"/>
<path d="M50.5,6.4 C52.9,7.0 59.9,9.1 65.1,10.0 C70.3,10.9 76.7,12.1 81.6,11.8 C86.5,11.5 92.2,8.8 94.3,8.2" stroke="#dfe4f1" stroke-width="3.8" fill="none" stroke-linecap="round"/>
<path d="M56.0,44.7 C58.1,44.4 64.8,43.8 68.8,42.9 C72.8,42.0 77.9,39.8 79.7,39.2" stroke="#dfe4f1" stroke-width="3.8" fill="none" stroke-linecap="round"/>
<path d="M90.7,24.6 C91.3,26.4 93.1,32.0 94.3,35.6 C95.5,39.2 96.2,43.2 98.0,46.5 C99.8,49.8 104.1,54.1 105.3,55.6" stroke="#dfe4f1" stroke-width="3.8" fill="none" stroke-linecap="round"/>
<path d="M83.4,52.0 C84.0,53.5 85.8,58.7 87.0,61.1 C88.2,63.5 90.1,65.7 90.7,66.6" stroke="#dfe4f1" stroke-width="3.4" fill="none" stroke-linecap="round"/>
<path d="M26.8,4.5 C28.9,4.2 37.5,3.0 39.6,2.7" stroke="#dfe4f1" stroke-width="3.4" fill="none" stroke-linecap="round"/>
<path d="M105.3,15.5 C105.9,17.9 108.4,27.7 109.0,30.1" stroke="#dfe4f1" stroke-width="3.4" fill="none" stroke-linecap="round"/>
<path d="M12.0,20.0 C12.2,21.2 12.8,25.8 13.0,27.0" stroke="#dfe4f1" stroke-width="2.4" fill="none" stroke-linecap="round"/>
<path d="M62.0,68.0 C63.7,68.7 70.3,71.3 72.0,72.0" stroke="#dfe4f1" stroke-width="2.9" fill="none" stroke-linecap="round"/>
<path d="M100.0,70.0 C101.7,69.0 108.3,65.0 110.0,64.0" stroke="#dfe4f1" stroke-width="2.9" fill="none" stroke-linecap="round"/>
</g>
<g filter="url(#hf0)"><g transform="translate(219.2,426.5)">
<rect x="0" y="0" width="114.6" height="76.9" fill="#5a5a5a"/>
<path d="M19.5,4.5 C20.1,6.0 22.0,10.6 23.2,13.7 C24.4,16.8 25.9,19.5 26.8,22.8 C27.7,26.1 28.9,30.7 28.6,33.7 C28.3,36.7 25.6,39.8 25.0,41.0" stroke="#fff" stroke-width="12.8" fill="none" stroke-linecap="round"/>
<path d="M6.7,11.8 C6.4,13.9 4.9,20.3 4.9,24.6 C4.9,28.9 5.2,33.8 6.7,37.4 C8.2,41.0 11.6,44.7 14.0,46.5 C16.4,48.3 20.1,48.0 21.3,48.3" stroke="#fff" stroke-width="12.8" fill="none" stroke-linecap="round"/>
<path d="M37.8,24.6 C38.1,26.7 38.7,33.5 39.6,37.4 C40.5,41.3 41.4,44.3 43.2,48.3 C45.0,52.2 48.4,58.7 50.5,61.1 C52.6,63.5 55.1,62.6 56.0,62.9" stroke="#fff" stroke-width="14.4" fill="none" stroke-linecap="round"/>
<path d="M39.6,37.4 C38.7,38.6 35.0,43.5 34.1,44.7" stroke="#fff" stroke-width="11.200000000000001" fill="none" stroke-linecap="round"/>
<path d="M50.5,6.4 C52.9,7.0 59.9,9.1 65.1,10.0 C70.3,10.9 76.7,12.1 81.6,11.8 C86.5,11.5 92.2,8.8 94.3,8.2" stroke="#fff" stroke-width="12.8" fill="none" stroke-linecap="round"/>
<path d="M56.0,44.7 C58.1,44.4 64.8,43.8 68.8,42.9 C72.8,42.0 77.9,39.8 79.7,39.2" stroke="#fff" stroke-width="12.8" fill="none" stroke-linecap="round"/>
<path d="M90.7,24.6 C91.3,26.4 93.1,32.0 94.3,35.6 C95.5,39.2 96.2,43.2 98.0,46.5 C99.8,49.8 104.1,54.1 105.3,55.6" stroke="#fff" stroke-width="12.8" fill="none" stroke-linecap="round"/>
<path d="M83.4,52.0 C84.0,53.5 85.8,58.7 87.0,61.1 C88.2,63.5 90.1,65.7 90.7,66.6" stroke="#fff" stroke-width="11.200000000000001" fill="none" stroke-linecap="round"/>
<path d="M26.8,4.5 C28.9,4.2 37.5,3.0 39.6,2.7" stroke="#fff" stroke-width="11.200000000000001" fill="none" stroke-linecap="round"/>
<path d="M105.3,15.5 C105.9,17.9 108.4,27.7 109.0,30.1" stroke="#fff" stroke-width="11.200000000000001" fill="none" stroke-linecap="round"/>
<path d="M12.0,20.0 C12.2,21.2 12.8,25.8 13.0,27.0" stroke="#fff" stroke-width="8.0" fill="none" stroke-linecap="round"/>
<path d="M62.0,68.0 C63.7,68.7 70.3,71.3 72.0,72.0" stroke="#fff" stroke-width="9.600000000000001" fill="none" stroke-linecap="round"/>
<path d="M100.0,70.0 C101.7,69.0 108.3,65.0 110.0,64.0" stroke="#fff" stroke-width="9.600000000000001" fill="none" stroke-linecap="round"/>
<path d="M19.5,4.5 C20.1,6.0 22.0,10.6 23.2,13.7 C24.4,16.8 25.9,19.5 26.8,22.8 C27.7,26.1 28.9,30.7 28.6,33.7 C28.3,36.7 25.6,39.8 25.0,41.0" stroke="#000" stroke-width="3.8" fill="none" stroke-linecap="round"/>
<path d="M6.7,11.8 C6.4,13.9 4.9,20.3 4.9,24.6 C4.9,28.9 5.2,33.8 6.7,37.4 C8.2,41.0 11.6,44.7 14.0,46.5 C16.4,48.3 20.1,48.0 21.3,48.3" stroke="#000" stroke-width="3.8" fill="none" stroke-linecap="round"/>
<path d="M37.8,24.6 C38.1,26.7 38.7,33.5 39.6,37.4 C40.5,41.3 41.4,44.3 43.2,48.3 C45.0,52.2 48.4,58.7 50.5,61.1 C52.6,63.5 55.1,62.6 56.0,62.9" stroke="#000" stroke-width="4.3" fill="none" stroke-linecap="round"/>
<path d="M39.6,37.4 C38.7,38.6 35.0,43.5 34.1,44.7" stroke="#000" stroke-width="3.4" fill="none" stroke-linecap="round"/>
<path d="M50.5,6.4 C52.9,7.0 59.9,9.1 65.1,10.0 C70.3,10.9 76.7,12.1 81.6,11.8 C86.5,11.5 92.2,8.8 94.3,8.2" stroke="#000" stroke-width="3.8" fill="none" stroke-linecap="round"/>
<path d="M56.0,44.7 C58.1,44.4 64.8,43.8 68.8,42.9 C72.8,42.0 77.9,39.8 79.7,39.2" stroke="#000" stroke-width="3.8" fill="none" stroke-linecap="round"/>
<path d="M90.7,24.6 C91.3,26.4 93.1,32.0 94.3,35.6 C95.5,39.2 96.2,43.2 98.0,46.5 C99.8,49.8 104.1,54.1 105.3,55.6" stroke="#000" stroke-width="3.8" fill="none" stroke-linecap="round"/>
<path d="M83.4,52.0 C84.0,53.5 85.8,58.7 87.0,61.1 C88.2,63.5 90.1,65.7 90.7,66.6" stroke="#000" stroke-width="3.4" fill="none" stroke-linecap="round"/>
<path d="M26.8,4.5 C28.9,4.2 37.5,3.0 39.6,2.7" stroke="#000" stroke-width="3.4" fill="none" stroke-linecap="round"/>
<path d="M105.3,15.5 C105.9,17.9 108.4,27.7 109.0,30.1" stroke="#000" stroke-width="3.4" fill="none" stroke-linecap="round"/>
<path d="M12.0,20.0 C12.2,21.2 12.8,25.8 13.0,27.0" stroke="#000" stroke-width="2.4" fill="none" stroke-linecap="round"/>
<path d="M62.0,68.0 C63.7,68.7 70.3,71.3 72.0,72.0" stroke="#000" stroke-width="2.9" fill="none" stroke-linecap="round"/>
<path d="M100.0,70.0 C101.7,69.0 108.3,65.0 110.0,64.0" stroke="#000" stroke-width="2.9" fill="none" stroke-linecap="round"/>
</g></g>
<g transform="translate(219.2,426.5)">
<ellipse cx="85.7" cy="37.0" rx="1.5" ry="1.2" fill="#6e3418" opacity="0.9"/>
<ellipse cx="85.0" cy="45.3" rx="1.6" ry="1.1" fill="#6e3418" opacity="0.9"/>
<ellipse cx="80.8" cy="64.2" rx="1.5" ry="1.6" fill="#6e3418" opacity="0.9"/>
<ellipse cx="59.9" cy="64.2" rx="1.3" ry="1.2" fill="#6e3418" opacity="0.9"/>
<ellipse cx="64.0" cy="72.6" rx="1.7" ry="1.1" fill="#6e3418" opacity="0.9"/>
<ellipse cx="107.3" cy="71.9" rx="1.3" ry="1.5" fill="#6e3418" opacity="0.9"/>
<ellipse cx="99.6" cy="62.8" rx="1.9" ry="1.2" fill="#6e3418" opacity="0.9"/>
<ellipse cx="95.5" cy="57.2" rx="1.3" ry="1.6" fill="#6e3418" opacity="0.9"/>
<ellipse cx="51.0" cy="41.0" rx="1.4" ry="1.4" fill="#6e3418" opacity="0.9"/>
<ellipse cx="28.0" cy="48.0" rx="1.6" ry="1.4" fill="#6e3418" opacity="0.9"/>
<ellipse cx="34.0" cy="66.0" rx="1.8" ry="1.6" fill="#6e3418" opacity="0.9"/>
<rect x="0" y="0" width="114.6" height="76.9" fill="none" stroke="#222" stroke-width="1.1"/>
<line x1="8.6" y1="70.60000000000002" x2="42.6" y2="70.60000000000002" stroke="#111" stroke-width="2"/>
</g>
<text x="388.80" y="421.60" font-size="9.2" text-anchor="middle" fill="#231f20">Soto</text>
<filter id="hf1" x="336.2" y="426.5" width="114.6" height="76.9" filterUnits="userSpaceOnUse" color-interpolation-filters="sRGB"><feTurbulence type="fractalNoise" baseFrequency="0.6" numOctaves="2" seed="10" result="n0"/><feColorMatrix in="n0" type="matrix" values="1 0 0 0 0  1 0 0 0 0  1 0 0 0 0  0 0 0 0 1" result="n"/><feGaussianBlur in="SourceGraphic" stdDeviation="0.5" result="s"/><feComposite in="n" in2="s" operator="arithmetic" k1="0" k2="1" k3="0.3" k4="-0.2" result="m"/><feColorMatrix in="m" type="matrix" values="0 0 0 0 0.44  0 0 0 0 0.51  0 0 0 0 0.75  16 0 0 0 -8" result="sp"/><feGaussianBlur in="sp" stdDeviation="0.45"/></filter>
<g transform="translate(336.2,426.5)">
<rect x="0" y="0" width="114.6" height="76.9" fill="#e0e4ee"/>
<path d="M38.0,10.0 C38.7,11.7 41.3,18.3 42.0,20.0" stroke="#dfe4f1" stroke-width="2.9" fill="none" stroke-linecap="round"/>
<path d="M108.0,14.0 C108.7,15.3 111.3,20.7 112.0,22.0" stroke="#dfe4f1" stroke-width="2.9" fill="none" stroke-linecap="round"/>
<path d="M3.0,70.0 C4.5,70.3 10.5,71.7 12.0,72.0" stroke="#dfe4f1" stroke-width="2.9" fill="none" stroke-linecap="round"/>
<path d="M20.0,20.0 C21.3,19.5 26.7,17.5 28.0,17.0" stroke="#dfe4f1" stroke-width="2.4" fill="none" stroke-linecap="round"/>
<ellipse cx="17.4" cy="33.2" rx="8" ry="1.8" transform="rotate(-20 17.4 33.2)" fill="#e6eaf4"/>
<ellipse cx="21.1" cy="53" rx="9" ry="1.8" transform="rotate(-40 21.1 53)" fill="#e6eaf4"/>
<ellipse cx="8.7" cy="5.9" rx="7" ry="1.6" transform="rotate(15 8.7 5.9)" fill="#e6eaf4"/>
<ellipse cx="58.3" cy="23.2" rx="8" ry="1.6" transform="rotate(-35 58.3 23.2)" fill="#e6eaf4"/>
<ellipse cx="65.8" cy="43.1" rx="7" ry="1.8" transform="rotate(0 65.8 43.1)" fill="#e6eaf4"/>
<ellipse cx="80.6" cy="53" rx="8" ry="1.8" transform="rotate(-10 80.6 53)" fill="#e6eaf4"/>
<ellipse cx="99.3" cy="54.2" rx="3" ry="4.8" transform="rotate(10 99.3 54.2)" fill="#e6eaf4"/>
<ellipse cx="93" cy="25.7" rx="10" ry="1.8" transform="rotate(0 93 25.7)" fill="#e6eaf4"/>
<ellipse cx="88" cy="8.3" rx="10" ry="1.6" transform="rotate(0 88 8.3)" fill="#e6eaf4"/>
<ellipse cx="108" cy="10.8" rx="5" ry="1.6" transform="rotate(0 108 10.8)" fill="#e6eaf4"/>
<ellipse cx="55.8" cy="67.9" rx="6" ry="1.6" transform="rotate(0 55.8 67.9)" fill="#e6eaf4"/>
<ellipse cx="75.7" cy="70.4" rx="6" ry="1.6" transform="rotate(0 75.7 70.4)" fill="#e6eaf4"/>
<ellipse cx="36" cy="62" rx="5" ry="1.6" transform="rotate(0 36 62)" fill="#e6eaf4"/>
</g>
<g filter="url(#hf1)"><g transform="translate(336.2,426.5)">
<rect x="0" y="0" width="114.6" height="76.9" fill="#5a5a5a"/>
<path d="M38.0,10.0 C38.7,11.7 41.3,18.3 42.0,20.0" stroke="#fff" stroke-width="9.600000000000001" fill="none" stroke-linecap="round"/>
<path d="M108.0,14.0 C108.7,15.3 111.3,20.7 112.0,22.0" stroke="#fff" stroke-width="9.600000000000001" fill="none" stroke-linecap="round"/>
<path d="M3.0,70.0 C4.5,70.3 10.5,71.7 12.0,72.0" stroke="#fff" stroke-width="9.600000000000001" fill="none" stroke-linecap="round"/>
<path d="M20.0,20.0 C21.3,19.5 26.7,17.5 28.0,17.0" stroke="#fff" stroke-width="8.0" fill="none" stroke-linecap="round"/>
<path d="M38.0,10.0 C38.7,11.7 41.3,18.3 42.0,20.0" stroke="#000" stroke-width="2.9" fill="none" stroke-linecap="round"/>
<path d="M108.0,14.0 C108.7,15.3 111.3,20.7 112.0,22.0" stroke="#000" stroke-width="2.9" fill="none" stroke-linecap="round"/>
<path d="M3.0,70.0 C4.5,70.3 10.5,71.7 12.0,72.0" stroke="#000" stroke-width="2.9" fill="none" stroke-linecap="round"/>
<path d="M20.0,20.0 C21.3,19.5 26.7,17.5 28.0,17.0" stroke="#000" stroke-width="2.4" fill="none" stroke-linecap="round"/>
<ellipse cx="17.4" cy="33.2" rx="12.2" ry="7.5" transform="rotate(-20 17.4 33.2)" fill="#fff"/><ellipse cx="17.4" cy="33.2" rx="8" ry="3.3" transform="rotate(-20 17.4 33.2)" fill="#000"/>
<ellipse cx="21.1" cy="53" rx="13.2" ry="7.5" transform="rotate(-40 21.1 53)" fill="#fff"/><ellipse cx="21.1" cy="53" rx="9" ry="3.3" transform="rotate(-40 21.1 53)" fill="#000"/>
<ellipse cx="8.7" cy="5.9" rx="11.2" ry="7.1" transform="rotate(15 8.7 5.9)" fill="#fff"/><ellipse cx="8.7" cy="5.9" rx="7" ry="2.9" transform="rotate(15 8.7 5.9)" fill="#000"/>
<ellipse cx="58.3" cy="23.2" rx="12.2" ry="7.1" transform="rotate(-35 58.3 23.2)" fill="#fff"/><ellipse cx="58.3" cy="23.2" rx="8" ry="2.9" transform="rotate(-35 58.3 23.2)" fill="#000"/>
<ellipse cx="65.8" cy="43.1" rx="11.2" ry="7.5" transform="rotate(0 65.8 43.1)" fill="#fff"/><ellipse cx="65.8" cy="43.1" rx="7" ry="3.3" transform="rotate(0 65.8 43.1)" fill="#000"/>
<ellipse cx="80.6" cy="53" rx="12.2" ry="7.5" transform="rotate(-10 80.6 53)" fill="#fff"/><ellipse cx="80.6" cy="53" rx="8" ry="3.3" transform="rotate(-10 80.6 53)" fill="#000"/>
<ellipse cx="99.3" cy="54.2" rx="7.2" ry="13.0" transform="rotate(10 99.3 54.2)" fill="#fff"/><ellipse cx="99.3" cy="54.2" rx="3" ry="8.8" transform="rotate(10 99.3 54.2)" fill="#000"/>
<ellipse cx="93" cy="25.7" rx="14.2" ry="7.5" transform="rotate(0 93 25.7)" fill="#fff"/><ellipse cx="93" cy="25.7" rx="10" ry="3.3" transform="rotate(0 93 25.7)" fill="#000"/>
<ellipse cx="88" cy="8.3" rx="14.2" ry="7.1" transform="rotate(0 88 8.3)" fill="#fff"/><ellipse cx="88" cy="8.3" rx="10" ry="2.9" transform="rotate(0 88 8.3)" fill="#000"/>
<ellipse cx="108" cy="10.8" rx="9.2" ry="7.1" transform="rotate(0 108 10.8)" fill="#fff"/><ellipse cx="108" cy="10.8" rx="5" ry="2.9" transform="rotate(0 108 10.8)" fill="#000"/>
<ellipse cx="55.8" cy="67.9" rx="10.2" ry="7.1" transform="rotate(0 55.8 67.9)" fill="#fff"/><ellipse cx="55.8" cy="67.9" rx="6" ry="2.9" transform="rotate(0 55.8 67.9)" fill="#000"/>
<ellipse cx="75.7" cy="70.4" rx="10.2" ry="7.1" transform="rotate(0 75.7 70.4)" fill="#fff"/><ellipse cx="75.7" cy="70.4" rx="6" ry="2.9" transform="rotate(0 75.7 70.4)" fill="#000"/>
<ellipse cx="36" cy="62" rx="9.2" ry="7.1" transform="rotate(0 36 62)" fill="#fff"/><ellipse cx="36" cy="62" rx="5" ry="2.9" transform="rotate(0 36 62)" fill="#000"/>
</g></g>
<g transform="translate(336.2,426.5)">
<ellipse cx="17.4" cy="33.2" rx="6.8" ry="1.9" transform="rotate(-20 17.4 33.2)" fill="#e8ebf3" opacity="0.55" filter="url(#blu)"/>
<ellipse cx="21.1" cy="53" rx="7.8" ry="1.9" transform="rotate(-40 21.1 53)" fill="#e8ebf3" opacity="0.55" filter="url(#blu)"/>
<ellipse cx="8.7" cy="5.9" rx="5.8" ry="1.5" transform="rotate(15 8.7 5.9)" fill="#e8ebf3" opacity="0.55" filter="url(#blu)"/>
<ellipse cx="58.3" cy="23.2" rx="6.8" ry="1.5" transform="rotate(-35 58.3 23.2)" fill="#e8ebf3" opacity="0.55" filter="url(#blu)"/>
<ellipse cx="65.8" cy="43.1" rx="5.8" ry="1.9" transform="rotate(0 65.8 43.1)" fill="#e8ebf3" opacity="0.55" filter="url(#blu)"/>
<ellipse cx="80.6" cy="53" rx="6.8" ry="1.9" transform="rotate(-10 80.6 53)" fill="#e8ebf3" opacity="0.55" filter="url(#blu)"/>
<ellipse cx="99.3" cy="54.2" rx="1.8" ry="7.4" transform="rotate(10 99.3 54.2)" fill="#e8ebf3" opacity="0.55" filter="url(#blu)"/>
<ellipse cx="93" cy="25.7" rx="8.8" ry="1.9" transform="rotate(0 93 25.7)" fill="#e8ebf3" opacity="0.55" filter="url(#blu)"/>
<ellipse cx="88" cy="8.3" rx="8.8" ry="1.5" transform="rotate(0 88 8.3)" fill="#e8ebf3" opacity="0.55" filter="url(#blu)"/>
<ellipse cx="108" cy="10.8" rx="3.8" ry="1.5" transform="rotate(0 108 10.8)" fill="#e8ebf3" opacity="0.55" filter="url(#blu)"/>
<ellipse cx="55.8" cy="67.9" rx="4.8" ry="1.5" transform="rotate(0 55.8 67.9)" fill="#e8ebf3" opacity="0.55" filter="url(#blu)"/>
<ellipse cx="75.7" cy="70.4" rx="4.8" ry="1.5" transform="rotate(0 75.7 70.4)" fill="#e8ebf3" opacity="0.55" filter="url(#blu)"/>
<ellipse cx="36" cy="62" rx="3.8" ry="1.5" transform="rotate(0 36 62)" fill="#e8ebf3" opacity="0.55" filter="url(#blu)"/>
<ellipse cx="27.3" cy="12.1" rx="1.4" ry="1.3" fill="#6e3418" opacity="0.9"/>
<ellipse cx="32.3" cy="5.9" rx="1.3" ry="1.5" fill="#6e3418" opacity="0.9"/>
<ellipse cx="47.1" cy="7.1" rx="1.4" ry="1.3" fill="#6e3418" opacity="0.9"/>
<ellipse cx="53.4" cy="7.1" rx="1.8" ry="1.2" fill="#6e3418" opacity="0.9"/>
<ellipse cx="48.4" cy="14.5" rx="1.9" ry="1.4" fill="#6e3418" opacity="0.9"/>
<ellipse cx="45.9" cy="46.8" rx="1.6" ry="1.4" fill="#6e3418" opacity="0.9"/>
<ellipse cx="86.8" cy="10.8" rx="1.6" ry="1.2" fill="#6e3418" opacity="0.9"/>
<ellipse cx="75.7" cy="33.2" rx="1.9" ry="1.2" fill="#6e3418" opacity="0.9"/>
<rect x="0" y="0" width="114.6" height="76.9" fill="none" stroke="#222" stroke-width="1.1"/>
<line x1="6.7" y1="70.60000000000002" x2="40.7" y2="70.60000000000002" stroke="#111" stroke-width="2"/>
</g>
<text x="512.20" y="421.60" font-size="9.2" text-anchor="middle" fill="#231f20">Mido</text>
<filter id="hf2" x="453.2" y="426.5" width="114.6" height="76.9" filterUnits="userSpaceOnUse" color-interpolation-filters="sRGB"><feTurbulence type="fractalNoise" baseFrequency="0.5" numOctaves="2" seed="17" result="n0"/><feColorMatrix in="n0" type="matrix" values="1 0 0 0 0  1 0 0 0 0  1 0 0 0 0  0 0 0 0 1" result="n"/><feGaussianBlur in="SourceGraphic" stdDeviation="0.5" result="s"/><feComposite in="n" in2="s" operator="arithmetic" k1="0" k2="1" k3="0.3" k4="-0.2" result="m"/><feColorMatrix in="m" type="matrix" values="0 0 0 0 0.44  0 0 0 0 0.51  0 0 0 0 0.75  16 0 0 0 -8" result="sp"/><feGaussianBlur in="sp" stdDeviation="0.45"/></filter>
<g transform="translate(453.2,426.5)">
<rect x="0" y="0" width="114.6" height="76.9" fill="#e0e4ee"/>
<path d="M3.4,18.5 C4.5,19.1 8.9,21.2 10.0,21.8" stroke="#dfe4f1" stroke-width="3.4" fill="none" stroke-linecap="round"/>
<path d="M33.6,40.3 C36.4,40.8 44.2,41.4 50.4,43.6 C56.5,45.8 67.2,52.0 70.5,53.7" stroke="#dfe4f1" stroke-width="3.4" fill="none" stroke-linecap="round"/>
<path d="M55.4,55.4 C57.3,55.7 65.1,56.7 67.1,57.0" stroke="#dfe4f1" stroke-width="3.4" fill="none" stroke-linecap="round"/>
<path d="M99.0,36.9 C99.8,38.0 103.2,42.5 104.0,43.6" stroke="#dfe4f1" stroke-width="3.4" fill="none" stroke-linecap="round"/>
<path d="M88.0,15.0 C89.7,14.7 96.3,13.3 98.0,13.0" stroke="#dfe4f1" stroke-width="2.9" fill="none" stroke-linecap="round"/>
<path d="M15.0,60.0 C16.7,61.0 23.3,65.0 25.0,66.0" stroke="#dfe4f1" stroke-width="2.9" fill="none" stroke-linecap="round"/>
<path d="M40.0,10.0 C42.5,11.0 52.5,15.0 55.0,16.0" stroke="#dfe4f1" stroke-width="2.4" fill="none" stroke-linecap="round"/>
<path d="M75.0,30.0 C76.7,29.5 83.3,27.5 85.0,27.0" stroke="#dfe4f1" stroke-width="2.4" fill="none" stroke-linecap="round"/>
<ellipse cx="85" cy="71" rx="7" ry="4.5" fill="#e8ecf5"/>
</g>
<g filter="url(#hf2)"><g transform="translate(453.2,426.5)">
<rect x="0" y="0" width="114.6" height="76.9" fill="#8c8c8c"/>
<path d="M3.4,18.5 C4.5,19.1 8.9,21.2 10.0,21.8" stroke="#fff" stroke-width="11.200000000000001" fill="none" stroke-linecap="round"/>
<path d="M33.6,40.3 C36.4,40.8 44.2,41.4 50.4,43.6 C56.5,45.8 67.2,52.0 70.5,53.7" stroke="#fff" stroke-width="11.200000000000001" fill="none" stroke-linecap="round"/>
<path d="M55.4,55.4 C57.3,55.7 65.1,56.7 67.1,57.0" stroke="#fff" stroke-width="11.200000000000001" fill="none" stroke-linecap="round"/>
<path d="M99.0,36.9 C99.8,38.0 103.2,42.5 104.0,43.6" stroke="#fff" stroke-width="11.200000000000001" fill="none" stroke-linecap="round"/>
<path d="M88.0,15.0 C89.7,14.7 96.3,13.3 98.0,13.0" stroke="#fff" stroke-width="9.600000000000001" fill="none" stroke-linecap="round"/>
<path d="M15.0,60.0 C16.7,61.0 23.3,65.0 25.0,66.0" stroke="#fff" stroke-width="9.600000000000001" fill="none" stroke-linecap="round"/>
<path d="M40.0,10.0 C42.5,11.0 52.5,15.0 55.0,16.0" stroke="#fff" stroke-width="8.0" fill="none" stroke-linecap="round"/>
<path d="M75.0,30.0 C76.7,29.5 83.3,27.5 85.0,27.0" stroke="#fff" stroke-width="8.0" fill="none" stroke-linecap="round"/>
<path d="M3.4,18.5 C4.5,19.1 8.9,21.2 10.0,21.8" stroke="#000" stroke-width="3.4" fill="none" stroke-linecap="round"/>
<path d="M33.6,40.3 C36.4,40.8 44.2,41.4 50.4,43.6 C56.5,45.8 67.2,52.0 70.5,53.7" stroke="#000" stroke-width="3.4" fill="none" stroke-linecap="round"/>
<path d="M55.4,55.4 C57.3,55.7 65.1,56.7 67.1,57.0" stroke="#000" stroke-width="3.4" fill="none" stroke-linecap="round"/>
<path d="M99.0,36.9 C99.8,38.0 103.2,42.5 104.0,43.6" stroke="#000" stroke-width="3.4" fill="none" stroke-linecap="round"/>
<path d="M88.0,15.0 C89.7,14.7 96.3,13.3 98.0,13.0" stroke="#000" stroke-width="2.9" fill="none" stroke-linecap="round"/>
<path d="M15.0,60.0 C16.7,61.0 23.3,65.0 25.0,66.0" stroke="#000" stroke-width="2.9" fill="none" stroke-linecap="round"/>
<path d="M40.0,10.0 C42.5,11.0 52.5,15.0 55.0,16.0" stroke="#000" stroke-width="2.4" fill="none" stroke-linecap="round"/>
<path d="M75.0,30.0 C76.7,29.5 83.3,27.5 85.0,27.0" stroke="#000" stroke-width="2.4" fill="none" stroke-linecap="round"/>
<ellipse cx="85" cy="71" rx="10" ry="7.5" fill="#fff"/><ellipse cx="85" cy="71" rx="7" ry="4.5" fill="#000"/>
</g></g>
<g transform="translate(453.2,426.5)">
<path d="M80.0,74.0 C81.3,73.3 85.7,70.3 88.0,70.0 C90.3,69.7 93.0,71.7 94.0,72.0" stroke="#eef1f7" stroke-width="5" fill="none" stroke-linecap="round" opacity="0.6" filter="url(#blu)"/>
<ellipse cx="73.0" cy="5.9" rx="1.9" ry="1.0" fill="#6e3418" opacity="0.9"/>
<ellipse cx="89.0" cy="8.4" rx="1.7" ry="1.3" fill="#6e3418" opacity="0.9"/>
<ellipse cx="89.0" cy="21.8" rx="1.9" ry="1.2" fill="#6e3418" opacity="0.9"/>
<ellipse cx="16.8" cy="38.6" rx="1.8" ry="1.1" fill="#6e3418" opacity="0.9"/>
<ellipse cx="4.2" cy="58.8" rx="1.9" ry="1.2" fill="#6e3418" opacity="0.9"/>
<ellipse cx="7.6" cy="63.0" rx="1.3" ry="1.2" fill="#6e3418" opacity="0.9"/>
<ellipse cx="102.4" cy="61.3" rx="1.6" ry="1.0" fill="#6e3418" opacity="0.9"/>
<ellipse cx="100.7" cy="11.8" rx="1.5" ry="1.0" fill="#6e3418" opacity="0.9"/>
<ellipse cx="48.7" cy="28.5" rx="1.2" ry="1.1" fill="#6e3418" opacity="0.9"/>
<ellipse cx="59.6" cy="30.2" rx="1.4" ry="1.2" fill="#6e3418" opacity="0.9"/>
<ellipse cx="42.8" cy="21.8" rx="1.7" ry="1.2" fill="#6e3418" opacity="0.9"/>
<rect x="0" y="0" width="114.6" height="76.9" fill="none" stroke="#222" stroke-width="1.1"/>
<line x1="7.9" y1="70.60000000000002" x2="41.9" y2="70.60000000000002" stroke="#111" stroke-width="2"/>
</g>
<text x="626.00" y="421.60" font-size="9.2" text-anchor="middle" fill="#231f20">Combo</text>
<filter id="hf3" x="570.4" y="426.5" width="113.8" height="76.9" filterUnits="userSpaceOnUse" color-interpolation-filters="sRGB"><feTurbulence type="fractalNoise" baseFrequency="0.6" numOctaves="2" seed="24" result="n0"/><feColorMatrix in="n0" type="matrix" values="1 0 0 0 0  1 0 0 0 0  1 0 0 0 0  0 0 0 0 1" result="n"/><feGaussianBlur in="SourceGraphic" stdDeviation="0.5" result="s"/><feComposite in="n" in2="s" operator="arithmetic" k1="0" k2="1" k3="0.3" k4="-0.2" result="m"/><feColorMatrix in="m" type="matrix" values="0 0 0 0 0.44  0 0 0 0 0.51  0 0 0 0 0.75  16 0 0 0 -8" result="sp"/><feGaussianBlur in="sp" stdDeviation="0.45"/></filter>
<g transform="translate(570.4,426.5)">
<rect x="0" y="0" width="113.8" height="76.9" fill="#e0e4ee"/>
<path d="M20.0,17.0 C21.7,18.0 26.7,20.8 30.0,23.0 C33.3,25.2 37.2,27.7 40.0,30.0 C42.8,32.3 45.8,35.8 47.0,37.0" stroke="#dfe4f1" stroke-width="4.8" fill="none" stroke-linecap="round"/>
<path d="M5.0,33.0 C6.2,34.2 9.5,37.7 12.0,40.0 C14.5,42.3 18.7,45.8 20.0,47.0" stroke="#dfe4f1" stroke-width="2.9" fill="none" stroke-linecap="round"/>
<path d="M25.0,47.0 C26.3,47.8 30.5,50.7 33.0,52.0 C35.5,53.3 38.8,54.5 40.0,55.0" stroke="#dfe4f1" stroke-width="2.9" fill="none" stroke-linecap="round"/>
<path d="M94.0,17.0 C95.7,18.5 102.3,24.5 104.0,26.0" stroke="#dfe4f1" stroke-width="3.4" fill="none" stroke-linecap="round"/>
<path d="M10.0,62.0 C11.7,62.7 18.3,65.3 20.0,66.0" stroke="#dfe4f1" stroke-width="2.9" fill="none" stroke-linecap="round"/>
<path d="M60.0,20.0 C61.7,20.8 68.3,24.2 70.0,25.0" stroke="#dfe4f1" stroke-width="2.4" fill="none" stroke-linecap="round"/>
<path d="M90.0,55.0 C91.7,54.2 98.3,50.8 100.0,50.0" stroke="#dfe4f1" stroke-width="2.4" fill="none" stroke-linecap="round"/>
<ellipse cx="56.4" cy="61.2" rx="7" ry="6.2" fill="#e8ecf5"/>
<ellipse cx="16" cy="65" rx="3" ry="2" fill="#e8ecf5"/>
</g>
<g filter="url(#hf3)"><g transform="translate(570.4,426.5)">
<rect x="0" y="0" width="113.8" height="76.9" fill="#8c8c8c"/>
<path d="M20.0,17.0 C21.7,18.0 26.7,20.8 30.0,23.0 C33.3,25.2 37.2,27.7 40.0,30.0 C42.8,32.3 45.8,35.8 47.0,37.0" stroke="#fff" stroke-width="16.0" fill="none" stroke-linecap="round"/>
<path d="M5.0,33.0 C6.2,34.2 9.5,37.7 12.0,40.0 C14.5,42.3 18.7,45.8 20.0,47.0" stroke="#fff" stroke-width="9.600000000000001" fill="none" stroke-linecap="round"/>
<path d="M25.0,47.0 C26.3,47.8 30.5,50.7 33.0,52.0 C35.5,53.3 38.8,54.5 40.0,55.0" stroke="#fff" stroke-width="9.600000000000001" fill="none" stroke-linecap="round"/>
<path d="M94.0,17.0 C95.7,18.5 102.3,24.5 104.0,26.0" stroke="#fff" stroke-width="11.200000000000001" fill="none" stroke-linecap="round"/>
<path d="M10.0,62.0 C11.7,62.7 18.3,65.3 20.0,66.0" stroke="#fff" stroke-width="9.600000000000001" fill="none" stroke-linecap="round"/>
<path d="M60.0,20.0 C61.7,20.8 68.3,24.2 70.0,25.0" stroke="#fff" stroke-width="8.0" fill="none" stroke-linecap="round"/>
<path d="M90.0,55.0 C91.7,54.2 98.3,50.8 100.0,50.0" stroke="#fff" stroke-width="8.0" fill="none" stroke-linecap="round"/>
<path d="M20.0,17.0 C21.7,18.0 26.7,20.8 30.0,23.0 C33.3,25.2 37.2,27.7 40.0,30.0 C42.8,32.3 45.8,35.8 47.0,37.0" stroke="#000" stroke-width="4.8" fill="none" stroke-linecap="round"/>
<path d="M5.0,33.0 C6.2,34.2 9.5,37.7 12.0,40.0 C14.5,42.3 18.7,45.8 20.0,47.0" stroke="#000" stroke-width="2.9" fill="none" stroke-linecap="round"/>
<path d="M25.0,47.0 C26.3,47.8 30.5,50.7 33.0,52.0 C35.5,53.3 38.8,54.5 40.0,55.0" stroke="#000" stroke-width="2.9" fill="none" stroke-linecap="round"/>
<path d="M94.0,17.0 C95.7,18.5 102.3,24.5 104.0,26.0" stroke="#000" stroke-width="3.4" fill="none" stroke-linecap="round"/>
<path d="M10.0,62.0 C11.7,62.7 18.3,65.3 20.0,66.0" stroke="#000" stroke-width="2.9" fill="none" stroke-linecap="round"/>
<path d="M60.0,20.0 C61.7,20.8 68.3,24.2 70.0,25.0" stroke="#000" stroke-width="2.4" fill="none" stroke-linecap="round"/>
<path d="M90.0,55.0 C91.7,54.2 98.3,50.8 100.0,50.0" stroke="#000" stroke-width="2.4" fill="none" stroke-linecap="round"/>
<ellipse cx="56.4" cy="61.2" rx="10" ry="9.2" fill="#fff"/><ellipse cx="56.4" cy="61.2" rx="7" ry="6.2" fill="#000"/>
<ellipse cx="16" cy="65" rx="6" ry="5" fill="#fff"/><ellipse cx="16" cy="65" rx="3" ry="2" fill="#000"/>
</g></g>
<g transform="translate(570.4,426.5)">
<path d="M19.0,17.5 C20.8,18.6 26.0,21.6 30.0,24.0 C34.0,26.4 40.8,30.7 43.0,32.0" stroke="#eef1f7" stroke-width="5" fill="none" stroke-linecap="round" opacity="0.65" filter="url(#blu)"/>
<path d="M56.4,61.2 C56.4,61.2 56.5,61.3 56.5,61.3" stroke="#eef1f7" stroke-width="11" fill="none" stroke-linecap="round" opacity="0.8" filter="url(#blu)"/>
<path d="M8.0,40.0 C9.0,40.8 13.0,44.2 14.0,45.0" stroke="#eef1f7" stroke-width="2.5" fill="none" stroke-linecap="round" opacity="0.6" filter="url(#blu)"/>
<ellipse cx="9.2" cy="6.7" rx="1.6" ry="1.5" fill="#6e3418" opacity="0.9"/>
<ellipse cx="8.4" cy="13.4" rx="1.5" ry="1.4" fill="#6e3418" opacity="0.9"/>
<ellipse cx="65.5" cy="3.4" rx="1.9" ry="1.3" fill="#6e3418" opacity="0.9"/>
<ellipse cx="73.9" cy="5.0" rx="1.7" ry="1.4" fill="#6e3418" opacity="0.9"/>
<ellipse cx="86.5" cy="6.7" rx="1.8" ry="1.0" fill="#6e3418" opacity="0.9"/>
<ellipse cx="101.6" cy="5.9" rx="1.3" ry="1.6" fill="#6e3418" opacity="0.9"/>
<ellipse cx="71.3" cy="15.1" rx="1.7" ry="1.2" fill="#6e3418" opacity="0.9"/>
<ellipse cx="72.2" cy="25.2" rx="1.7" ry="1.1" fill="#6e3418" opacity="0.9"/>
<ellipse cx="73.9" cy="31.1" rx="1.5" ry="1.3" fill="#6e3418" opacity="0.9"/>
<ellipse cx="78.9" cy="31.9" rx="1.4" ry="1.1" fill="#6e3418" opacity="0.9"/>
<ellipse cx="84.8" cy="33.6" rx="1.6" ry="1.4" fill="#6e3418" opacity="0.9"/>
<ellipse cx="82.3" cy="38.6" rx="1.4" ry="1.4" fill="#6e3418" opacity="0.9"/>
<ellipse cx="74.7" cy="36.1" rx="1.9" ry="1.0" fill="#6e3418" opacity="0.9"/>
<ellipse cx="82.3" cy="44.5" rx="1.4" ry="1.1" fill="#6e3418" opacity="0.9"/>
<ellipse cx="93.2" cy="40.3" rx="1.7" ry="1.2" fill="#6e3418" opacity="0.9"/>
<ellipse cx="96.5" cy="41.1" rx="1.5" ry="1.1" fill="#6e3418" opacity="0.9"/>
<ellipse cx="87.3" cy="55.4" rx="1.7" ry="1.5" fill="#6e3418" opacity="0.9"/>
<ellipse cx="73.9" cy="57.9" rx="1.5" ry="1.5" fill="#6e3418" opacity="0.9"/>
<ellipse cx="77.2" cy="63.0" rx="1.4" ry="1.2" fill="#6e3418" opacity="0.9"/>
<ellipse cx="80.6" cy="64.6" rx="1.9" ry="1.1" fill="#6e3418" opacity="0.9"/>
<ellipse cx="100.7" cy="63.0" rx="1.3" ry="1.0" fill="#6e3418" opacity="0.9"/>
<ellipse cx="109.1" cy="62.1" rx="1.7" ry="1.5" fill="#6e3418" opacity="0.9"/>
<ellipse cx="110.0" cy="65.5" rx="1.2" ry="1.3" fill="#6e3418" opacity="0.9"/>
<ellipse cx="21.8" cy="52.9" rx="1.5" ry="1.2" fill="#6e3418" opacity="0.9"/>
<ellipse cx="31.1" cy="55.4" rx="1.4" ry="1.2" fill="#6e3418" opacity="0.9"/>
<ellipse cx="31.9" cy="57.9" rx="1.3" ry="1.6" fill="#6e3418" opacity="0.9"/>
<ellipse cx="36.1" cy="62.1" rx="1.3" ry="1.3" fill="#6e3418" opacity="0.9"/>
<ellipse cx="43.6" cy="54.6" rx="1.6" ry="1.4" fill="#6e3418" opacity="0.9"/>
<ellipse cx="48.7" cy="59.6" rx="1.5" ry="1.3" fill="#6e3418" opacity="0.9"/>
<ellipse cx="49.5" cy="65.5" rx="1.9" ry="1.1" fill="#6e3418" opacity="0.9"/>
<ellipse cx="50.4" cy="70.5" rx="1.3" ry="1.2" fill="#6e3418" opacity="0.9"/>
<ellipse cx="68.0" cy="68.8" rx="1.7" ry="1.3" fill="#6e3418" opacity="0.9"/>
<ellipse cx="34.4" cy="66.3" rx="1.5" ry="1.0" fill="#6e3418" opacity="0.9"/>
<rect x="0" y="0" width="113.8" height="76.9" fill="none" stroke="#222" stroke-width="1.1"/>
<line x1="6.1" y1="70.60000000000002" x2="40.1" y2="70.60000000000002" stroke="#111" stroke-width="2"/>
</g>
</svg></body></html>
